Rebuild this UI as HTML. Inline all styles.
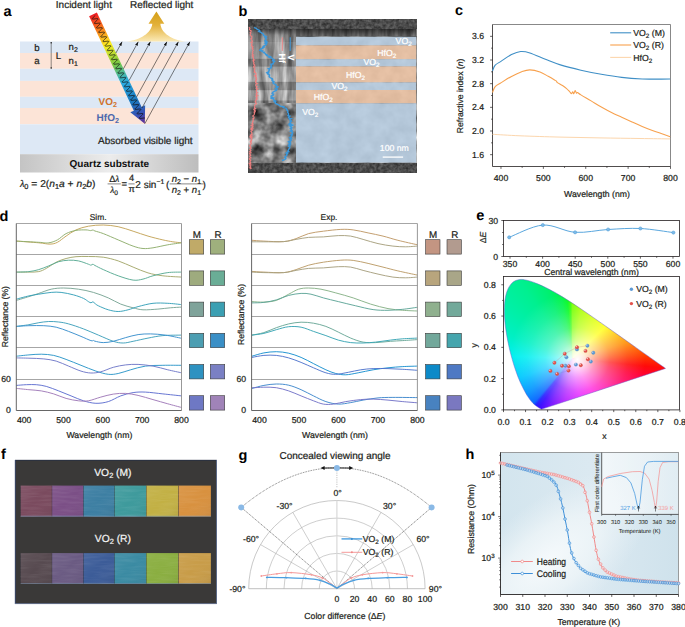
<!DOCTYPE html>
<html><head><meta charset="utf-8"><style>
html,body{margin:0;padding:0;background:#fff;overflow:hidden;}
#wrap{position:relative;width:685px;height:627px;overflow:hidden;background:#fff;font-family:"Liberation Sans", sans-serif;}
svg{position:absolute;left:0;top:0;}
svg text{font-family:"Liberation Sans", sans-serif;text-rendering:geometricPrecision;}
</style></head><body><div id="wrap">
<div style="position:absolute;left:0;top:0;width:685px;height:627px;background:radial-gradient(circle at 577.45px 359.44px, rgba(255,255,255,1) 0px, rgba(255,255,255,0.88) 7px, rgba(255,255,255,0.6) 18px, rgba(255,255,255,0.32) 32px, rgba(255,255,255,0.12) 50px, rgba(255,255,255,0) 68px),conic-gradient(from 0deg at 572.45px 358.44px, #74ff00 0deg, #a8ff00 10deg, #d8ff00 28deg, #ffff00 46deg, #ffc400 60deg, #ff8a00 74deg, #ff3c00 88deg, #ff0a0a 96deg, #ff0038 104deg, #ff0070 118deg, #ff00a8 132deg, #ff00e0 150deg, #e000ff 170deg, #a800ff 190deg, #6800ff 205deg, #3000ff 214deg, #1818ff 218deg, #0060ff 221deg, #0090ff 232deg, #00c8ff 250deg, #00f0f0 272deg, #00f0c4 290deg, #00f0a8 308deg, #00f090 326deg, #00f070 340deg, #00f448 350deg, #00fa20 355deg, #30ff00 358deg, #74ff00 360deg);clip-path:path('M541.89,409.12C541.86,409.12 541.77,409.14 541.71,409.15C541.66,409.15 541.63,409.16 541.56,409.15C541.49,409.14 541.43,409.16 541.29,409.1C541.16,409.05 541,408.97 540.74,408.82C540.49,408.67 540.2,408.48 539.75,408.2C539.3,407.91 538.78,407.62 538.03,407.13C537.28,406.64 536.03,405.83 535.25,405.25C534.48,404.68 534.11,404.39 533.38,403.66C532.65,402.93 531.82,402.08 530.86,400.86C529.91,399.64 528.87,398.28 527.67,396.32C526.46,394.37 525.13,392.11 523.63,389.15C522.13,386.18 520.34,382.74 518.65,378.51C516.96,374.28 515.17,369.29 513.51,363.76C511.85,358.24 510.05,351.7 508.68,345.35C507.31,339.01 506.03,332 505.31,325.69C504.59,319.38 504.15,313.01 504.36,307.49C504.57,301.97 505.28,296.67 506.56,292.57C507.85,288.47 509.86,285.08 512.08,282.9C514.3,280.72 517.12,279.86 519.88,279.49C522.65,279.12 525.73,279.96 528.68,280.68C531.64,281.41 534.72,282.69 537.61,283.86C540.5,285.02 543.28,286.31 546.03,287.66C548.79,289 551.45,290.43 554.13,291.93C556.81,293.42 559.46,295 562.11,296.62C564.75,298.24 567.38,299.92 570,301.62C572.63,303.33 575.25,305.08 577.87,306.85C580.5,308.62 583.14,310.42 585.77,312.23C588.39,314.03 591.01,315.87 593.62,317.69C596.23,319.51 598.85,321.34 601.42,323.14C604,324.95 606.56,326.77 609.08,328.54C611.59,330.32 614.08,332.08 616.51,333.8C618.93,335.51 621.32,337.21 623.63,338.83C625.93,340.46 628.2,342.05 630.33,343.56C632.47,345.06 634.54,346.54 636.44,347.89C638.34,349.24 640.09,350.47 641.75,351.64C643.42,352.82 645,353.94 646.43,354.94C647.85,355.94 648.72,356.54 650.31,357.66C651.9,358.79 654.43,360.59 655.98,361.68C657.52,362.78 658.58,363.52 659.59,364.23C660.6,364.95 661.37,365.5 662.04,365.97C662.7,366.44 663.18,366.76 663.58,367.05C663.99,367.33 664.19,367.48 664.47,367.67C664.74,367.86 665.04,368.08 665.21,368.2C665.39,368.33 665.45,368.37 665.5,368.41 Z');"></div>
<svg width="685" height="627" viewBox="0 0 685 627">
<rect x="20" y="41.5" width="178.5" height="11.5" fill="#dde8f5"/>
<rect x="20" y="53" width="178.5" height="15.8" fill="#fce4d7"/>
<rect x="20" y="68.8" width="178.5" height="12.1" fill="#dde8f5"/>
<rect x="20" y="80.9" width="178.5" height="15.9" fill="#fce4d7"/>
<rect x="20" y="96.8" width="178.5" height="11.2" fill="#dde8f5"/>
<rect x="20" y="108" width="178.5" height="16.3" fill="#fce4d7"/>
<rect x="20" y="124.3" width="178.5" height="29.9" fill="#dde8f5"/>
<defs><linearGradient id="sub" x1="0" x2="1" y1="0" y2="0"><stop offset="0" stop-color="#c4c4c4"/><stop offset="0.5" stop-color="#ececec"/><stop offset="1" stop-color="#bdbdbd"/></linearGradient></defs>
<rect x="20" y="154.2" width="178.5" height="18.3" fill="url(#sub)"/>
<text x="109.3" y="167" font-size="10" text-anchor="middle" font-weight="bold" fill="#111" >Quartz substrate</text>
<text x="145.3" y="143.8" font-size="10" text-anchor="middle" font-weight="normal" fill="#231f20" stroke="#231f20" stroke-width="0.22" >Absorbed visible light</text>
<line x1="51.2" y1="42.8" x2="51.2" y2="68" stroke="#444" stroke-width="0.6"/>
<circle cx="51.2" cy="42.8" r="0.8" fill="#222"/><circle cx="51.2" cy="68" r="0.8" fill="#222"/>
<text x="34.3" y="50.5" font-size="9.6" text-anchor="start" font-weight="normal" fill="#231f20" stroke="#231f20" stroke-width="0.22" >b</text>
<text x="34.3" y="63.7" font-size="9.6" text-anchor="start" font-weight="normal" fill="#231f20" stroke="#231f20" stroke-width="0.22" >a</text>
<text x="55.8" y="58.9" font-size="9.6" text-anchor="start" font-weight="normal" fill="#231f20" stroke="#231f20" stroke-width="0.22" >L</text>
<text x="68.6" y="50.4" font-size="9.6" text-anchor="start" font-weight="normal" fill="#231f20" stroke="#231f20" stroke-width="0.22" >n<tspan font-size="6.91" baseline-shift="-1.73">2</tspan></text>
<text x="68.6" y="63.7" font-size="9.6" text-anchor="start" font-weight="normal" fill="#231f20" stroke="#231f20" stroke-width="0.22" >n<tspan font-size="6.91" baseline-shift="-1.73">1</tspan></text>
<defs><linearGradient id="gold" x1="0" x2="0" y1="0" y2="1"><stop offset="0" stop-color="#d49f17"/><stop offset="0.45" stop-color="#e3b13a"/><stop offset="1" stop-color="#fbeab8"/></linearGradient></defs>
<path d="M156.4,11.6 L164.3,23.7 L160.4,23.7 C161,33 172,40 186,41.6 L126.5,41.6 C140,40 151.5,33 152.3,23.7 L148.5,23.7 Z" fill="url(#gold)"/>
<defs><linearGradient id="rainbow" gradientUnits="userSpaceOnUse" x1="93" y1="14.3" x2="144.8" y2="123.7"><stop offset="0" stop-color="#ee1c25"/><stop offset="0.12" stop-color="#f7701c"/><stop offset="0.28" stop-color="#fcee21"/><stop offset="0.45" stop-color="#7ac943"/><stop offset="0.62" stop-color="#29abe2"/><stop offset="0.8" stop-color="#1b75bc"/><stop offset="0.92" stop-color="#3a4fb5"/><stop offset="1" stop-color="#662d91"/></linearGradient></defs>
<path d="M96.89,12.46 L141.63,106.95 L145.15,105.28 L144.8,123.7 L130.33,112.3 L133.85,110.63 L89.11,16.14 Z" fill="url(#rainbow)"/>
<path d="M95.24,15.45 L94.6,16.07 L93.89,16.72 L93.21,17.36 L92.65,17.94 L92.31,18.42 L92.24,18.77 L92.47,18.97 L92.99,19.04 L93.73,19 L94.64,18.89 L95.6,18.75 L96.51,18.64 L97.26,18.59 L97.79,18.66 L98.03,18.86 L97.98,19.2 L97.65,19.67 L97.1,20.25 L96.42,20.89 L95.71,21.54 L95.07,22.16 L94.6,22.69 L94.38,23.11 L94.45,23.4 L94.82,23.54 L95.45,23.56 L96.28,23.48 L97.22,23.35 L98.17,23.21 L99.02,23.13 L99.68,23.13 L100.08,23.25 L100.19,23.52 L100,23.92 L99.56,24.45 L98.94,25.06 L98.23,25.71 L97.53,26.35 L96.96,26.94 L96.6,27.42 L96.52,27.78 L96.72,28 L97.22,28.08 L97.95,28.05 L98.85,27.94 L99.81,27.8 L100.72,27.68 L101.49,27.63 L102.04,27.69 L102.31,27.88 L102.27,28.21 L101.96,28.67 L101.43,29.24 L100.75,29.88 L100.04,30.53 L99.39,31.15 L98.91,31.7 L98.67,32.13 L98.71,32.42 L99.06,32.57 L99.67,32.6 L100.49,32.52 L101.43,32.39 L102.38,32.26 L103.24,32.17 L103.92,32.16 L104.34,32.28 L104.47,32.53 L104.3,32.93 L103.88,33.44 L103.27,34.05 L102.56,34.7 L101.86,35.34 L101.28,35.94 L100.9,36.43 L100.79,36.8 L100.98,37.03 L101.45,37.12 L102.17,37.09 L103.06,36.99 L104.02,36.85 L104.94,36.73 L105.72,36.67 L106.29,36.72 L106.58,36.9 L106.57,37.22 L106.27,37.67 L105.75,38.24 L105.08,38.87 L104.37,39.52 L103.71,40.15 L103.21,40.7 L102.95,41.14 L102.98,41.44 L103.3,41.6 L103.9,41.64 L104.71,41.57 L105.64,41.44 L106.59,41.31 L107.46,41.21 L108.16,41.2 L108.6,41.3 L108.75,41.55 L108.6,41.93 L108.2,42.44 L107.59,43.04 L106.89,43.69 L106.19,44.34 L105.6,44.93 L105.2,45.44 L105.07,45.81 L105.23,46.05 L105.69,46.15 L106.39,46.13 L107.27,46.03 L108.22,45.9 L109.15,45.77 L109.95,45.71 L110.54,45.75 L110.84,45.92 L110.86,46.23 L110.58,46.67 L110.08,47.23 L109.42,47.86 L108.7,48.51 L108.04,49.14 L107.52,49.7 L107.24,50.15 L107.25,50.46 L107.55,50.63 L108.12,50.68 L108.92,50.62 L109.85,50.49 L110.8,50.35 L111.68,50.25 L112.39,50.23 L112.85,50.33 L113.03,50.56 L112.9,50.94 L112.51,51.44 L111.92,52.03 L111.22,52.68 L110.52,53.33 L109.91,53.93 L109.5,54.44 L109.35,54.83 L109.49,55.08 L109.92,55.19 L110.61,55.18 L111.48,55.08 L112.43,54.95 L113.37,54.82 L114.18,54.75 L114.78,54.78 L115.11,54.94 L115.14,55.24 L114.89,55.67 L114.4,56.22 L113.75,56.85 L113.03,57.5 L112.36,58.13 L111.83,58.7 L111.53,59.16 L111.52,59.48 L111.8,59.66 L112.35,59.71 L113.13,59.66 L114.05,59.54 L115.01,59.4 L115.9,59.3 L116.63,59.27 L117.11,59.36 L117.3,59.58 L117.2,59.94 L116.83,60.43 L116.25,61.02 L115.56,61.67 L114.85,62.32 L114.23,62.93 L113.8,63.44 L113.63,63.84 L113.75,64.1 L114.16,64.22 L114.83,64.22 L115.69,64.13 L116.64,63.99 L117.58,63.86 L118.4,63.79 L119.02,63.81 L119.38,63.96 L119.43,64.25 L119.2,64.68 L118.72,65.22 L118.08,65.84 L117.36,66.49 L116.69,67.13 L116.15,67.7 L115.83,68.16 L115.79,68.5 L116.04,68.69 L116.58,68.75 L117.35,68.71 L118.26,68.59 L119.22,68.45 L120.12,68.34 L120.86,68.3 L121.36,68.38 L121.58,68.6 L121.5,68.95 L121.14,69.43 L120.58,70.02 L119.89,70.66 L119.18,71.31 L118.55,71.92 L118.11,72.45 L117.91,72.86 L118.01,73.13 L118.4,73.26 L119.05,73.26 L119.9,73.18 L120.85,73.04 L121.79,72.91 L122.63,72.83 L123.27,72.84 L123.64,72.98 L123.72,73.26 L123.5,73.68 L123.04,74.21 L122.41,74.83 L121.7,75.48 L121.01,76.12 L120.46,76.7 L120.12,77.17 L120.06,77.52 L120.29,77.72 L120.81,77.79 L121.57,77.75 L122.47,77.64 L123.43,77.5 L124.34,77.38 L125.09,77.34 L125.61,77.41 L125.85,77.61 L125.79,77.96 L125.46,78.43 L124.91,79.01 L124.22,79.65 L123.51,80.3 L122.87,80.92 L122.41,81.45 L122.2,81.87 L122.27,82.15 L122.64,82.29 L123.28,82.3 L124.11,82.22 L125.06,82.09 L126,81.96 L126.85,81.87 L127.51,81.88 L127.9,82.01 L128,82.27 L127.81,82.68 L127.36,83.21 L126.74,83.82 L126.03,84.47 L125.34,85.11 L124.77,85.7 L124.42,86.18 L124.33,86.53 L124.55,86.75 L125.05,86.83 L125.78,86.79 L126.68,86.68 L127.64,86.55 L128.55,86.43 L129.32,86.38 L129.86,86.44 L130.12,86.63 L130.09,86.96 L129.77,87.43 L129.23,88 L128.55,88.64 L127.84,89.29 L127.2,89.91 L126.72,90.45 L126.48,90.88 L126.53,91.17 L126.88,91.32 L127.5,91.34 L128.32,91.27 L129.26,91.14 L130.21,91 L131.07,90.91 L131.75,90.91 L132.16,91.03 L132.28,91.29 L132.11,91.68 L131.68,92.2 L131.07,92.81 L130.36,93.46 L129.67,94.1 L129.09,94.69 L128.71,95.19 L128.61,95.55 L128.8,95.78 L129.28,95.86 L130,95.84 L130.89,95.73 L131.85,95.59 L132.77,95.47 L133.55,95.42 L134.11,95.47 L134.4,95.65 L134.38,95.97 L134.08,96.43 L133.56,96.99 L132.89,97.63 L132.17,98.28 L131.52,98.9 L131.02,99.45 L130.77,99.89 L130.8,100.19 L131.13,100.35 L131.73,100.38 L132.54,100.32 L133.47,100.19 L134.43,100.05 L135.29,99.96 L135.98,99.95 L136.42,100.05 L136.56,100.3 L136.41,100.69 L136,101.2 L135.4,101.8 L134.7,102.45 L134,103.09 L133.4,103.69 L133.01,104.19 L132.89,104.57 L133.05,104.8 L133.51,104.9 L134.22,104.88 L135.1,104.78 L136.06,104.64 L136.98,104.52 L137.78,104.46 L138.36,104.5 L138.66,104.67 L138.67,104.98 L138.39,105.43 L137.88,105.99 L137.22,106.62 L136.5,107.27 L135.84,107.9 L135.33,108.45 L135.06,108.9 L135.07,109.21 L135.37,109.38 L135.95,109.42 L136.75,109.36 L137.68,109.24 L138.64,109.1 L139.51,109 L140.22,108.98 L140.68,109.08 L140.84,109.32 L140.71,109.69 L140.32,110.19 L139.73,110.79 L139.03,111.44 L138.32,112.09 L137.72,112.69 L137.31,113.2 L137.16,113.58 L137.31,113.83 L137.75,113.94 L138.44,113.92 L139.31,113.83 L140.26,113.69 L141.2,113.56 L142.01,113.5 L142.6,113.53 L142.93,113.69 L142.96,113.99 L142.7,114.43 L142.21,114.98 L141.55,115.61 L140.84,116.26 L140.17,116.89 L139.64,117.45 L139.35,117.91 L139.33,118.23 L139.62,118.41 L140.18,118.46 L140.97,118.41 L141.89,118.29 L142.85,118.15 L143.73,118.04 L144.45,118.02 L144.93,118.11" fill="none" stroke="#111" stroke-width="0.75"/>
<defs><marker id="ah" markerWidth="6" markerHeight="6" refX="4" refY="3" orient="auto" markerUnits="userSpaceOnUse"><path d="M0,1.6 L4,3 L0,4.4 Z" fill="#111"/></marker></defs>
<line x1="115.92" y1="53" x2="122.08" y2="41.8" stroke="#111" stroke-width="0.55" marker-end="url(#ah)"/>
<line x1="123.41" y1="68.8" x2="138.26" y2="41.8" stroke="#111" stroke-width="0.55" marker-end="url(#ah)"/>
<line x1="128.99" y1="80.6" x2="150.33" y2="41.8" stroke="#111" stroke-width="0.55" marker-end="url(#ah)"/>
<line x1="136.66" y1="96.8" x2="166.91" y2="41.8" stroke="#111" stroke-width="0.55" marker-end="url(#ah)"/>
<line x1="141.97" y1="108" x2="178.38" y2="41.8" stroke="#111" stroke-width="0.55" marker-end="url(#ah)"/>
<line x1="144.8" y1="123.7" x2="189.85" y2="41.8" stroke="#111" stroke-width="0.55" marker-end="url(#ah)"/>
<text x="98.6" y="105.3" font-size="10" text-anchor="start" font-weight="bold" fill="#d2732c" >VO<tspan font-size="7.2" baseline-shift="-1.8">2</tspan></text>
<text x="96.6" y="121.3" font-size="10" text-anchor="start" font-weight="bold" fill="#4d69ad" >HfO<tspan font-size="7.2" baseline-shift="-1.8">2</tspan></text>
<text x="55.8" y="8.1" font-size="10" text-anchor="start" font-weight="normal" fill="#231f20" stroke="#231f20" stroke-width="0.22" >Incident light</text>
<text x="130" y="8.1" font-size="10" text-anchor="start" font-weight="normal" fill="#231f20" stroke="#231f20" stroke-width="0.22" >Reflected light</text>
<text x="19.9" y="186.8" font-size="10" text-anchor="start" font-weight="normal" fill="#231f20" stroke="#231f20" stroke-width="0.22" textLength="75.5" lengthAdjust="spacingAndGlyphs"><tspan font-family="Liberation Serif" font-style="italic">λ</tspan><tspan font-size="7.2" baseline-shift="-1.8">0</tspan> = 2(<tspan font-style="italic">n</tspan><tspan font-size="7.2" baseline-shift="-1.8">1</tspan><tspan font-style="italic">a</tspan> + <tspan font-style="italic">n</tspan><tspan font-size="7.2" baseline-shift="-1.8">2</tspan><tspan font-style="italic">b</tspan>)</text>
<text x="114.2" y="181.6" font-size="9.2" text-anchor="middle" font-weight="normal" fill="#231f20" stroke="#231f20" stroke-width="0.22" >Δ<tspan font-family="Liberation Serif" font-style="italic">λ</tspan></text>
<line x1="107.6" y1="183.9" x2="120.8" y2="183.9" stroke="#222" stroke-width="0.55"/>
<text x="114.2" y="192.6" font-size="9.2" text-anchor="middle" font-weight="normal" fill="#231f20" stroke="#231f20" stroke-width="0.22" ><tspan font-family="Liberation Serif" font-style="italic">λ</tspan><tspan font-size="6.62" baseline-shift="-1.66">0</tspan></text>
<text x="121.6" y="187.4" font-size="9.5" text-anchor="start" font-weight="normal" fill="#231f20" stroke="#231f20" stroke-width="0.22" >=</text>
<text x="131.6" y="181.4" font-size="9.2" text-anchor="middle" font-weight="normal" fill="#231f20" stroke="#231f20" stroke-width="0.22" >4</text>
<line x1="128.4" y1="183.9" x2="134.6" y2="183.9" stroke="#222" stroke-width="0.55"/>
<text x="131.6" y="192.2" font-size="9.2" text-anchor="middle" font-weight="normal" fill="#231f20" stroke="#231f20" stroke-width="0.22" >π</text>
<text x="135.3" y="187.6" font-size="10" text-anchor="start" font-weight="normal" fill="#231f20" stroke="#231f20" stroke-width="0.22" >2 sin<tspan font-size="6.8" baseline-shift="3.9">−1</tspan></text>
<text x="166" y="187.6" font-size="10" text-anchor="start" font-weight="normal" fill="#231f20" stroke="#231f20" stroke-width="0.22" >(</text>
<text x="186.4" y="181.6" font-size="9.6" text-anchor="middle" font-weight="normal" fill="#231f20" stroke="#231f20" stroke-width="0.22" ><tspan font-style="italic">n</tspan><tspan font-size="6.91" baseline-shift="-1.73">2</tspan> − <tspan font-style="italic">n</tspan><tspan font-size="6.91" baseline-shift="-1.73">1</tspan></text>
<line x1="169.6" y1="183.9" x2="203.6" y2="183.9" stroke="#222" stroke-width="0.55"/>
<text x="186.4" y="192.8" font-size="9.6" text-anchor="middle" font-weight="normal" fill="#231f20" stroke="#231f20" stroke-width="0.22" ><tspan font-style="italic">n</tspan><tspan font-size="6.91" baseline-shift="-1.73">2</tspan> + <tspan font-style="italic">n</tspan><tspan font-size="6.91" baseline-shift="-1.73">1</tspan></text>
<text x="202.6" y="187.6" font-size="10" text-anchor="start" font-weight="normal" fill="#231f20" stroke="#231f20" stroke-width="0.22" >)</text>
<text x="3.4" y="15.7" font-size="14.5" text-anchor="start" font-weight="bold" fill="#000" >a</text>
<defs><filter id="semcol" x="0" y="0" width="100%" height="100%" color-interpolation-filters="sRGB"><feTurbulence type="fractalNoise" baseFrequency="0.16 0.03" numOctaves="3" seed="5"/><feColorMatrix type="matrix" values="0.75 0 0 0 0.2  0.75 0 0 0 0.2  0.75 0 0 0 0.2  0 0 0 0 1"/></filter><filter id="semblob" x="0" y="0" width="100%" height="100%" color-interpolation-filters="sRGB"><feTurbulence type="fractalNoise" baseFrequency="0.075" numOctaves="3" seed="11"/><feColorMatrix type="matrix" values="1.15 0 0 0 -0.08  1.15 0 0 0 -0.08  1.15 0 0 0 -0.08  0 0 0 0 1"/></filter><filter id="semfine" x="0" y="0" width="100%" height="100%" color-interpolation-filters="sRGB"><feTurbulence type="fractalNoise" baseFrequency="0.3" numOctaves="2" seed="2"/><feColorMatrix type="matrix" values="0.35 0 0 0 0.12  0.35 0 0 0 0.12  0.35 0 0 0 0.12  0 0 0 0 1"/></filter><linearGradient id="semtop" x1="0" x2="0" y1="0" y2="1"><stop offset="0" stop-color="#000" stop-opacity="0.55"/><stop offset="0.5" stop-color="#000" stop-opacity="0.15"/><stop offset="1" stop-color="#000" stop-opacity="0"/></linearGradient></defs>
<rect x="248.3" y="19.9" width="167.9" height="152.5" fill="#000" filter="url(#semfine)"/>
<rect x="248.3" y="29" width="167.9" height="74.3" fill="#000" filter="url(#semcol)"/>
<rect x="248.3" y="29" width="167.9" height="12" fill="url(#semtop)"/>
<rect x="248.3" y="58.8" width="47.7" height="7.8" fill="#000" opacity="0.17"/>
<rect x="248.3" y="81.8" width="47.7" height="8.4" fill="#000" opacity="0.2"/>
<rect x="248.3" y="100.5" width="47.7" height="4" fill="#000" opacity="0.15"/>
<rect x="248.3" y="42" width="47.7" height="16.8" fill="#fff" opacity="0.12"/>
<rect x="248.3" y="66.6" width="47.7" height="15.2" fill="#fff" opacity="0.12"/>
<rect x="248.3" y="90.2" width="47.7" height="10.3" fill="#fff" opacity="0.1"/>
<rect x="248.3" y="103.3" width="167.9" height="59.3" fill="#000" filter="url(#semblob)"/>
<rect x="296" y="36.8" width="120.2" height="125.8" fill="#9a9a9a"/>
<rect x="296" y="36.8" width="120.2" height="125.8" fill="#000" filter="url(#semblob)" opacity="0.6"/>
<rect x="296" y="29" width="120.2" height="7.8" fill="#000" opacity="0.3"/>
<rect x="296" y="36.8" width="120.2" height="8.6" fill="#bbd0e5" opacity="0.88"/>
<rect x="296" y="45.4" width="120.2" height="13.8" fill="#efc5a5" opacity="0.88"/>
<rect x="296" y="59.2" width="120.2" height="7.2" fill="#bbd0e5" opacity="0.88"/>
<rect x="296" y="66.4" width="120.2" height="16" fill="#efc5a5" opacity="0.88"/>
<rect x="296" y="82.4" width="120.2" height="7.6" fill="#bbd0e5" opacity="0.88"/>
<rect x="296" y="90" width="120.2" height="13.3" fill="#efc5a5" opacity="0.88"/>
<rect x="296" y="103.3" width="120.2" height="59.3" fill="#bbd0e5" opacity="0.88"/>
<text x="395.6" y="44" font-size="8.7" text-anchor="start" font-weight="normal" fill="#fff" stroke="#fff" stroke-width="0.22" >VO<tspan font-size="6.26" baseline-shift="-1.57">2</tspan></text>
<text x="377.2" y="55.6" font-size="8.7" text-anchor="start" font-weight="normal" fill="#fff" stroke="#fff" stroke-width="0.22" >HfO<tspan font-size="6.26" baseline-shift="-1.57">2</tspan></text>
<text x="363.5" y="65.2" font-size="8.7" text-anchor="start" font-weight="normal" fill="#fff" stroke="#fff" stroke-width="0.22" >VO<tspan font-size="6.26" baseline-shift="-1.57">2</tspan></text>
<text x="346" y="77.5" font-size="8.7" text-anchor="start" font-weight="normal" fill="#fff" stroke="#fff" stroke-width="0.22" >HfO<tspan font-size="6.26" baseline-shift="-1.57">2</tspan></text>
<text x="331.4" y="88.5" font-size="8.7" text-anchor="start" font-weight="normal" fill="#fff" stroke="#fff" stroke-width="0.22" >VO<tspan font-size="6.26" baseline-shift="-1.57">2</tspan></text>
<text x="313.8" y="99.9" font-size="8.7" text-anchor="start" font-weight="normal" fill="#fff" stroke="#fff" stroke-width="0.22" >HfO<tspan font-size="6.26" baseline-shift="-1.57">2</tspan></text>
<text x="302.2" y="115.4" font-size="8.7" text-anchor="start" font-weight="normal" fill="#fff" stroke="#fff" stroke-width="0.22" >VO<tspan font-size="6.26" baseline-shift="-1.57">2</tspan></text>
<text x="394.3" y="150.5" font-size="8.7" text-anchor="middle" font-weight="normal" fill="#fff" stroke="#fff" stroke-width="0.22" >100 nm</text>
<line x1="382.7" y1="157.1" x2="403.1" y2="157.1" stroke="#fff" stroke-width="1.3"/>
<path d="M249.52,27.2 L249.36,27.81 L249.96,28.42 L249.59,29.03 L249.51,29.64 L250.18,30.25 L251.18,30.86 L251.04,31.47 L251.05,32.08 L250.14,32.69 L250.78,33.3 L250.38,33.9 L250.27,34.51 L250.22,35.12 L250.49,35.73 L251.84,36.34 L251.73,36.95 L251.77,37.56 L251.83,38.17 L250.81,38.78 L251.09,39.39 L251.73,40 L251.98,40.6 L252.26,41.2 L252.36,41.8 L251,42.4 L251.99,43 L252.17,43.6 L251.93,44.2 L251.4,44.8 L251.99,45.4 L251.36,46 L252.94,46.6 L252.88,47.2 L252.37,47.8 L251.98,48.4 L253.14,49 L252.59,49.6 L253.21,50.2 L253.21,50.8 L252.66,51.4 L252.55,52 L252.94,52.6 L252.7,53.2 L252.27,53.8 L252.59,54.4 L253.56,55 L252.25,55.61 L252.33,56.22 L253.44,56.83 L252.89,57.44 L253.42,58.06 L253.38,58.67 L253.22,59.28 L254.47,59.89 L253.1,60.5 L253.57,61.11 L253.26,61.72 L254.11,62.33 L253.54,62.94 L253.75,63.56 L254.53,64.17 L253.83,64.78 L254.33,65.39 L255.03,66 L253.66,66.61 L253.66,67.22 L254.03,67.83 L255.07,68.43 L254.88,69.04 L254.27,69.65 L254.51,70.26 L254.31,70.87 L254.89,71.48 L254.22,72.09 L255.47,72.7 L255.9,73.3 L256.08,73.91 L255.76,74.52 L256.24,75.13 L254.62,75.74 L255.18,76.35 L256.47,76.96 L256.2,77.57 L255.62,78.17 L256.65,78.78 L256.14,79.39 L256.57,80 L255.69,80.6 L255.56,81.2 L256.08,81.8 L255.59,82.4 L256.09,83 L257.19,83.6 L256.12,84.2 L255.6,84.8 L255.72,85.4 L256.01,86 L257.17,86.6 L256.47,87.2 L256.4,87.8 L256.11,88.4 L257.77,89 L256.82,89.6 L256.49,90.2 L256.29,90.8 L256.34,91.4 L256.6,92 L257.44,92.62 L256.42,93.25 L256.15,93.88 L256.88,94.5 L256.37,95.12 L257.65,95.75 L256,96.38 L256.65,97 L257.02,97.62 L256.29,98.25 L257.25,98.88 L256.26,99.5 L255.76,100.12 L255.99,100.75 L255.24,101.38 L255.86,102 L255.43,102.63 L256.47,103.27 L256.26,103.9 L255.54,104.53 L254.59,105.17 L254.88,105.8 L254.74,106.43 L254.57,107.07 L254.5,107.7 L255.53,108.33 L254.11,108.97 L253.83,109.6 L255.3,110.23 L254.53,110.87 L255.18,111.5 L254.02,112.12 L254.81,112.74 L254.26,113.35 L254.4,113.97 L254.21,114.59 L253.65,115.21 L252.83,115.82 L252.93,116.44 L254.02,117.06 L253.96,117.68 L253.9,118.29 L252.74,118.91 L253.21,119.53 L253.36,120.15 L252.97,120.76 L253.17,121.38 L252.55,122 L252.72,122.61 L252.72,123.22 L251.92,123.83 L253.04,124.44 L253.04,125.06 L251.4,125.67 L252.96,126.28 L252.89,126.89 L252.3,127.5 L251.12,128.11 L252.61,128.72 L251.16,129.33 L252.62,129.94 L252.02,130.56 L250.88,131.17 L251.01,131.78 L251.8,132.39 L251.62,133 L251.9,133.6 L252.18,134.2 L250.86,134.8 L250.43,135.4 L252.04,136 L250.35,136.6 L251.86,137.2 L250.45,137.8 L251.65,138.4 L251.56,139 L251.69,139.6 L251.05,140.2 L251.6,140.8 L250.33,141.4 L251.13,142 L250.48,142.6 L251.44,143.2 L251.18,143.8 L250.59,144.4 L250.65,145 L249.72,145.62 L249.72,146.23 L250.7,146.85 L250.49,147.46 L251.14,148.08 L250.66,148.69 L249.79,149.31 L250.17,149.92 L250.87,150.54 L250.41,151.15 L249.47,151.77 L250.93,152.38 L250.89,153 L249.53,153.62 L250.33,154.23 L250.02,154.85 L250.72,155.46 L249.84,156.08 L249.68,156.69 L250.11,157.31 L250.95,157.92 L249.36,158.54 L249.38,159.15 L250.26,159.77 L250.72,160.38 L250.02,161 L249.9,161.62 L250.69,162.23 L250.57,162.85 L249.31,163.46 L250.8,164.08 L249.59,164.69 L249.81,165.31 L250.79,165.92 L250.07,166.54 L250.77,167.15 L249.66,167.77 L250.95,168.38 L250.3,169" fill="none" stroke="#ef7f7f" stroke-width="1.1"/>
<path d="M254.22,27.2 L254.88,27.81 L256.43,28.43 L256.78,29.04 L257.99,29.66 L259.58,30.27 L259.83,30.89 L258.86,31.5 L260.32,32.11 L261.6,32.73 L262.18,33.34 L263.45,33.96 L263.62,34.57 L263.36,35.19 L264.49,35.8 L265.98,36.41 L264.86,37.03 L265.89,37.64 L266.47,38.26 L265.65,38.87 L265.82,39.49 L265.71,40.1 L265.05,40.71 L266.54,41.33 L265.52,41.94 L266.64,42.56 L265.23,43.17 L266.63,43.79 L266.49,44.4 L265.52,45.04 L264.55,45.69 L263.27,46.33 L264.23,46.98 L262.69,47.62 L262.86,48.27 L261.03,48.91 L260.35,49.56 L259.95,50.2 L262.39,50.85 L261.72,51.49 L264.3,52.14 L263.87,52.78 L265.21,53.43 L265.51,54.07 L267.01,54.72 L266.59,55.36 L268.18,56.01 L270.3,56.65 L269.33,57.3 L271.9,58.03 L272.55,58.77 L273.92,59.5 L272.92,60.11 L272.59,60.72 L274.49,61.32 L273.87,61.93 L273.47,62.54 L273.15,63.15 L273.17,63.75 L270.93,64.36 L271.63,64.97 L271.08,65.58 L270.94,66.18 L271.48,66.79 L270.72,67.4 L270.91,68.03 L268.56,68.67 L269.53,69.3 L269.28,69.93 L269.13,70.57 L268.52,71.2 L268.72,71.83 L267.14,72.47 L268.33,73.1 L267.52,73.73 L268.43,74.36 L269.58,74.99 L269.56,75.62 L269.06,76.26 L269.32,76.89 L269.99,77.52 L271.15,78.15 L272.49,78.78 L272.7,79.41 L271.94,80.04 L272.39,80.67 L273.83,81.31 L272.99,81.94 L273.74,82.57 L273.23,83.2 L274.06,83.81 L275.33,84.43 L276.11,85.04 L276.33,85.66 L276.15,86.27 L277.97,86.89 L277.6,87.5 L276,88.11 L275.31,88.72 L277,89.33 L276.56,89.94 L275.92,90.56 L274.68,91.17 L273.5,91.78 L272.5,92.39 L272.42,93 L272.13,93.6 L273.63,94.2 L273.34,94.8 L272.87,95.4 L271.16,96 L271.17,96.6 L271.12,97.2 L273.15,97.83 L271.75,98.47 L273.73,99.1 L273.94,99.73 L274.1,100.37 L275.57,101 L274.37,101.63 L275.48,102.27 L275.08,102.9 L276.04,103.54 L277,104.19 L278.79,104.83 L279.44,105.48 L280.4,106.12 L283.75,106.77 L283.17,107.41 L285.73,108.06 L286.38,108.7 L286.72,109.33 L286.81,109.95 L287.79,110.58 L287.88,111.2 L287.77,111.83 L287.66,112.45 L288.25,113.08 L288.59,113.7 L288.44,114.33 L288.59,114.95 L288.03,115.58 L289.95,116.2 L289.36,116.83 L288.63,117.45 L289.13,118.08 L291.1,118.7 L289.68,119.32 L290.06,119.94 L290.82,120.57 L291.31,121.19 L290.09,121.81 L290.29,122.43 L290.44,123.05 L289.55,123.67 L291.65,124.3 L289.65,124.92 L291.97,125.54 L290.1,126.16 L290.17,126.78 L291.89,127.4 L291.89,128.03 L290.53,128.65 L291.36,129.27 L291.24,129.89 L291.88,130.51 L290.66,131.13 L292.26,131.76 L292.73,132.38 L292.1,133 L292.49,133.6 L292.42,134.2 L290.96,134.8 L291.97,135.4 L291.82,136 L291.11,136.6 L289.84,137.2 L290.95,137.8 L291.54,138.4 L289.97,139 L290.67,139.6 L291.15,140.2 L290.32,140.8 L288.86,141.4 L290.17,142 L289.15,142.6 L290.48,143.2 L289.89,143.8 L288.92,144.4 L290.22,145 L289.45,145.6 L288.65,146.2 L289.72,146.8 L289.74,147.4 L289.56,148.03 L289.36,148.65 L288.64,149.28 L288.55,149.9 L288.14,150.53 L287.78,151.15 L288.7,151.78 L287,152.4 L286.16,153.03 L287.5,153.65 L286.8,154.28 L286.73,154.9 L286.68,155.53 L285.66,156.15 L285.36,156.78 L284.87,157.4 L286,158.12 L285.72,158.84 L284.63,159.56 L282.66,160.28 L283,161" fill="none" stroke="#3a98dc" stroke-width="1.45"/>
<line x1="282.3" y1="37.3" x2="282.3" y2="50.9" stroke="#ef7f7f" stroke-width="0.9"/>
<line x1="290.2" y1="37.3" x2="290.2" y2="50.9" stroke="#3a98dc" stroke-width="1"/>
<text x="0" y="0" font-size="9" text-anchor="start" font-weight="bold" fill="#fff" transform="translate(279.2,53.6) rotate(90)">Hf</text>
<text x="0" y="0" font-size="9" text-anchor="start" font-weight="bold" fill="#fff" transform="translate(287.7,54.6) rotate(90)">V</text>
<text x="238.5" y="16.1" font-size="14.5" text-anchor="start" font-weight="bold" fill="#000" >b</text>
<path d="M492.5,24.5 H670.5 V166.5" fill="none" stroke="#6a6a6a" stroke-width="0.8"/>
<path d="M492.5,24.5 V166.5 H670.5" fill="none" stroke="#231f20" stroke-width="0.8"/>
<line x1="500.98" y1="166.5" x2="500.98" y2="168.9" stroke="#231f20" stroke-width="0.7"/>
<text x="500.98" y="181.1" font-size="8.7" text-anchor="middle" font-weight="normal" fill="#231f20" stroke="#231f20" stroke-width="0.22" >400</text>
<line x1="522.17" y1="166.5" x2="522.17" y2="167.9" stroke="#231f20" stroke-width="0.7"/>
<line x1="543.36" y1="166.5" x2="543.36" y2="168.9" stroke="#231f20" stroke-width="0.7"/>
<text x="543.36" y="181.1" font-size="8.7" text-anchor="middle" font-weight="normal" fill="#231f20" stroke="#231f20" stroke-width="0.22" >500</text>
<line x1="564.55" y1="166.5" x2="564.55" y2="167.9" stroke="#231f20" stroke-width="0.7"/>
<line x1="585.74" y1="166.5" x2="585.74" y2="168.9" stroke="#231f20" stroke-width="0.7"/>
<text x="585.74" y="181.1" font-size="8.7" text-anchor="middle" font-weight="normal" fill="#231f20" stroke="#231f20" stroke-width="0.22" >600</text>
<line x1="606.93" y1="166.5" x2="606.93" y2="167.9" stroke="#231f20" stroke-width="0.7"/>
<line x1="628.12" y1="166.5" x2="628.12" y2="168.9" stroke="#231f20" stroke-width="0.7"/>
<text x="628.12" y="181.1" font-size="8.7" text-anchor="middle" font-weight="normal" fill="#231f20" stroke="#231f20" stroke-width="0.22" >700</text>
<line x1="649.31" y1="166.5" x2="649.31" y2="167.9" stroke="#231f20" stroke-width="0.7"/>
<line x1="670.5" y1="166.5" x2="670.5" y2="168.9" stroke="#231f20" stroke-width="0.7"/>
<text x="670.5" y="181.1" font-size="8.7" text-anchor="middle" font-weight="normal" fill="#231f20" stroke="#231f20" stroke-width="0.22" >800</text>
<line x1="490.1" y1="154.67" x2="492.5" y2="154.67" stroke="#231f20" stroke-width="0.7"/>
<text x="484.1" y="157.77" font-size="8.7" text-anchor="end" font-weight="normal" fill="#231f20" stroke="#231f20" stroke-width="0.22" >1.6</text>
<line x1="491.1" y1="142.83" x2="492.5" y2="142.83" stroke="#231f20" stroke-width="0.7"/>
<line x1="490.1" y1="131" x2="492.5" y2="131" stroke="#231f20" stroke-width="0.7"/>
<text x="484.1" y="134.1" font-size="8.7" text-anchor="end" font-weight="normal" fill="#231f20" stroke="#231f20" stroke-width="0.22" >2.0</text>
<line x1="491.1" y1="119.17" x2="492.5" y2="119.17" stroke="#231f20" stroke-width="0.7"/>
<line x1="490.1" y1="107.33" x2="492.5" y2="107.33" stroke="#231f20" stroke-width="0.7"/>
<text x="484.1" y="110.43" font-size="8.7" text-anchor="end" font-weight="normal" fill="#231f20" stroke="#231f20" stroke-width="0.22" >2.4</text>
<line x1="491.1" y1="95.5" x2="492.5" y2="95.5" stroke="#231f20" stroke-width="0.7"/>
<line x1="490.1" y1="83.67" x2="492.5" y2="83.67" stroke="#231f20" stroke-width="0.7"/>
<text x="484.1" y="86.77" font-size="8.7" text-anchor="end" font-weight="normal" fill="#231f20" stroke="#231f20" stroke-width="0.22" >2.8</text>
<line x1="491.1" y1="71.83" x2="492.5" y2="71.83" stroke="#231f20" stroke-width="0.7"/>
<line x1="490.1" y1="60" x2="492.5" y2="60" stroke="#231f20" stroke-width="0.7"/>
<text x="484.1" y="63.1" font-size="8.7" text-anchor="end" font-weight="normal" fill="#231f20" stroke="#231f20" stroke-width="0.22" >3.2</text>
<line x1="491.1" y1="48.17" x2="492.5" y2="48.17" stroke="#231f20" stroke-width="0.7"/>
<line x1="490.1" y1="36.33" x2="492.5" y2="36.33" stroke="#231f20" stroke-width="0.7"/>
<text x="484.1" y="39.43" font-size="8.7" text-anchor="end" font-weight="normal" fill="#231f20" stroke="#231f20" stroke-width="0.22" >3.6</text>
<text x="597" y="196.5" font-size="8.7" text-anchor="middle" font-weight="normal" fill="#231f20" stroke="#231f20" stroke-width="0.22" >Wavelength (nm)</text>
<text x="0" y="0" font-size="8.6" text-anchor="middle" font-weight="normal" fill="#231f20" stroke="#231f20" stroke-width="0.21" transform="translate(462.7,95.9) rotate(-90)">Refractive index (<tspan font-style="italic">n</tspan>)</text>
<path d="M492.5,134.3C497.08,134.55 508.75,135.33 520,135.8C531.25,136.27 546.67,136.75 560,137.1C573.33,137.45 586.67,137.67 600,137.9C613.33,138.13 628.3,138.33 640,138.5C651.7,138.67 665.17,138.83 670.2,138.9" fill="none" stroke="#fcd6ad" stroke-width="1"/>
<path d="M492.5,92.4C492.95,91.43 493.73,88.23 495.2,86.6C496.67,84.97 498.58,84.3 501.3,82.6C504.02,80.9 508.1,78.22 511.5,76.4C514.9,74.58 518.63,72.78 521.7,71.7C524.77,70.62 526.85,69.83 529.9,69.9C532.95,69.97 536.95,71.03 540,72.1C543.05,73.17 545.65,74.92 548.2,76.3C550.75,77.68 553.92,79.58 555.3,80.4C556.68,81.22 556.15,80.83 556.5,81.2C556.85,81.57 556.4,81.88 557.4,82.6C558.4,83.32 560.97,84.5 562.5,85.5C564.03,86.5 565.42,87.57 566.6,88.6C567.78,89.63 568.78,90.87 569.6,91.7C570.42,92.53 570.98,93.58 571.5,93.6C572.02,93.62 572.32,91.77 572.7,91.8C573.08,91.83 573.38,94.02 573.8,93.8C574.22,93.58 574.77,90.6 575.2,90.5C575.63,90.4 576.02,92.85 576.4,93.2C576.78,93.55 576.75,92.32 577.5,92.6C578.25,92.88 578.63,93.52 580.9,94.9C583.17,96.28 587.7,98.88 591.1,100.9C594.5,102.92 597.9,105.07 601.3,107C604.7,108.93 608.1,110.8 611.5,112.5C614.9,114.2 618.28,115.63 621.7,117.2C625.12,118.77 628.58,120.37 632,121.9C635.42,123.43 638.8,124.97 642.2,126.4C645.6,127.83 649,129.23 652.4,130.5C655.8,131.77 659.63,132.97 662.6,134C665.57,135.03 668.93,136.25 670.2,136.7" fill="none" stroke="#f7a14e" stroke-width="1.1"/>
<path d="M492.5,70.9C492.95,69.95 493.73,66.83 495.2,65.2C496.67,63.57 498.58,62.87 501.3,61.1C504.02,59.33 508.27,56.2 511.5,54.6C514.73,53 517.63,51.78 520.7,51.5C523.77,51.22 525.67,51.55 529.9,52.9C534.13,54.25 541.02,57.6 546.1,59.6C551.18,61.6 554.6,63.13 560.4,64.9C566.2,66.67 574.08,68.63 580.9,70.2C587.72,71.77 594.5,73.1 601.3,74.3C608.1,75.5 614.88,76.62 621.7,77.4C628.52,78.18 636.48,78.72 642.2,79C647.92,79.28 651.33,79.1 656,79.1C660.67,79.1 667.83,79.02 670.2,79" fill="none" stroke="#3f8fc6" stroke-width="1.1"/>
<line x1="610.2" y1="32.8" x2="631.2" y2="32.8" stroke="#3f8fc6" stroke-width="1.1"/>
<text x="633.3" y="35.9" font-size="8.7" text-anchor="start" font-weight="normal" fill="#231f20" stroke="#231f20" stroke-width="0.22" >VO<tspan font-size="6.26" baseline-shift="-1.57">2</tspan> (M)</text>
<line x1="610.2" y1="45" x2="631.2" y2="45" stroke="#f7a14e" stroke-width="1.1"/>
<text x="633.3" y="48.1" font-size="8.7" text-anchor="start" font-weight="normal" fill="#231f20" stroke="#231f20" stroke-width="0.22" >VO<tspan font-size="6.26" baseline-shift="-1.57">2</tspan> (R)</text>
<line x1="610.2" y1="57.4" x2="631.2" y2="57.4" stroke="#fcd6ad" stroke-width="1.1"/>
<text x="633.3" y="60.5" font-size="8.7" text-anchor="start" font-weight="normal" fill="#231f20" stroke="#231f20" stroke-width="0.22" >HfO<tspan font-size="6.26" baseline-shift="-1.57">2</tspan></text>
<text x="455" y="15.3" font-size="14.5" text-anchor="start" font-weight="bold" fill="#000" >c</text>
<path d="M16.5,241.1C20.22,241.38 33.22,242.3 38.8,242.8C44.38,243.3 46.9,244.18 50,244.1C53.1,244.02 54.72,243.63 57.4,242.3C60.08,240.97 63,238.17 66.1,236.1C69.2,234.03 72.28,231.55 76,229.9C79.72,228.25 83.85,227.02 88.4,226.2C92.95,225.38 98.33,224.92 103.3,225C108.27,225.08 113.23,225.67 118.2,226.7C123.17,227.73 128.13,229.63 133.1,231.2C138.07,232.77 143.03,234.65 148,236.1C152.97,237.55 158.77,238.95 162.9,239.9C167.03,240.85 169.7,241.32 172.8,241.8C175.9,242.28 180.05,242.63 181.5,242.8" fill="none" stroke="#c4a45a" stroke-width="0.95"/>
<path d="M16.5,241.1C20.22,241.3 33.43,242.02 38.8,242.3C44.17,242.58 45.6,243.2 48.7,242.8C51.8,242.4 54.5,241.43 57.4,239.9C60.3,238.37 63,235.18 66.1,233.6C69.2,232.02 72.68,231.02 76,230.4C79.32,229.78 83.58,229.87 86,229.9C88.42,229.93 89.35,230.58 90.5,230.6C91.65,230.62 92.15,229.93 92.9,230C93.65,230.07 93.27,230.4 95,231C96.73,231.6 99.43,232.12 103.3,233.6C107.17,235.08 113.23,237.82 118.2,239.9C123.17,241.98 128.97,244.67 133.1,246.1C137.23,247.53 139.68,248.22 143,248.5C146.32,248.78 148.87,248.42 153,247.8C157.13,247.18 163.05,245.63 167.8,244.8C172.55,243.97 179.22,243.13 181.5,242.8" fill="none" stroke="#8fae6e" stroke-width="0.95"/>
<path d="M16.5,272.1C18.57,272.1 25.18,272.18 28.9,272.1C32.62,272.02 35.9,272.22 38.8,271.6C41.7,270.98 43.4,269.97 46.3,268.4C49.2,266.83 52.9,263.85 56.2,262.2C59.5,260.55 62.8,259.42 66.1,258.5C69.4,257.58 72.28,257.03 76,256.7C79.72,256.37 83.85,256.42 88.4,256.5C92.95,256.58 98.33,256.47 103.3,257.2C108.27,257.93 113.23,259.25 118.2,260.9C123.17,262.55 128.13,265.1 133.1,267.1C138.07,269.1 143.03,271.45 148,272.9C152.97,274.35 157.32,275.1 162.9,275.8C168.48,276.5 178.4,276.88 181.5,277.1" fill="none" stroke="#a4a86c" stroke-width="0.95"/>
<path d="M16.5,272.1C18.57,272.02 25.18,272.02 28.9,271.6C32.62,271.18 35.5,270.55 38.8,269.6C42.1,268.65 45.38,267.22 48.7,265.9C52.02,264.58 55.38,262.65 58.7,261.7C62.02,260.75 65.3,260.33 68.6,260.2C71.9,260.07 75.2,260.23 78.5,260.9C81.8,261.57 86.32,263.48 88.4,264.2C90.48,264.92 90.25,265.2 91,265.2C91.75,265.2 92.23,264.15 92.9,264.2C93.57,264.25 93.27,264.6 95,265.5C96.73,266.4 99.43,267.88 103.3,269.6C107.17,271.32 113.23,274.05 118.2,275.8C123.17,277.55 128.97,279.55 133.1,280.1C137.23,280.65 139.68,279.82 143,279.1C146.32,278.38 148.87,276.88 153,275.8C157.13,274.72 163.05,273.22 167.8,272.6C172.55,271.98 179.22,272.18 181.5,272.1" fill="none" stroke="#5aab94" stroke-width="0.95"/>
<path d="M16.5,300.4C18.57,299.77 25.18,297.77 28.9,296.6C32.62,295.43 35.08,294.63 38.8,293.4C42.52,292.17 47.07,290.1 51.2,289.2C55.33,288.3 59.05,288 63.6,288C68.15,288 73.53,288.47 78.5,289.2C83.47,289.93 88.43,290.95 93.4,292.4C98.37,293.85 103.75,295.95 108.3,297.9C112.85,299.85 116.57,302.45 120.7,304.1C124.83,305.75 129.38,306.85 133.1,307.8C136.82,308.75 138.87,309.58 143,309.8C147.13,310.02 153.35,309.43 157.9,309.1C162.45,308.77 166.37,308.13 170.3,307.8C174.23,307.47 179.63,307.22 181.5,307.1" fill="none" stroke="#7aa596" stroke-width="0.95"/>
<path d="M16.5,299.1C18.57,298.57 25.18,296.72 28.9,295.9C32.62,295.08 35.08,294.78 38.8,294.2C42.52,293.62 47.48,292.7 51.2,292.4C54.92,292.1 57.37,291.98 61.1,292.4C64.83,292.82 69.87,293.9 73.6,294.9C77.33,295.9 81.03,297.28 83.5,298.4C85.97,299.52 87.15,300.87 88.4,301.6C89.65,302.33 90.25,302.77 91,302.8C91.75,302.83 92.23,301.68 92.9,301.8C93.57,301.92 94.08,302.83 95,303.5C95.92,304.17 96.18,304.75 98.4,305.8C100.62,306.85 105,308.85 108.3,309.8C111.6,310.75 114.9,311.5 118.2,311.5C121.5,311.5 124.78,310.62 128.1,309.8C131.42,308.98 133.95,307.68 138.1,306.6C142.25,305.52 148.05,303.85 153,303.3C157.95,302.75 163.05,303.08 167.8,303.3C172.55,303.52 179.22,304.38 181.5,304.6" fill="none" stroke="#36a0b8" stroke-width="0.95"/>
<path d="M16.5,326.4C18.57,326.12 25.18,325.32 28.9,324.7C32.62,324.08 35.5,323.23 38.8,322.7C42.1,322.17 45.38,321.62 48.7,321.5C52.02,321.38 55.38,321.6 58.7,322C62.02,322.4 64.47,322.75 68.6,323.9C72.73,325.05 78.53,327.03 83.5,328.9C88.47,330.77 93.43,333.03 98.4,335.1C103.37,337.17 109.17,339.98 113.3,341.3C117.43,342.62 119.9,343 123.2,343C126.5,343 128.97,342.12 133.1,341.3C137.23,340.48 143.03,339.05 148,338.1C152.97,337.15 157.32,336.1 162.9,335.6C168.48,335.1 178.4,335.18 181.5,335.1" fill="none" stroke="#3fa0ba" stroke-width="0.95"/>
<path d="M16.5,326.4C18.57,326.28 24.35,325.82 28.9,325.7C33.45,325.58 39.25,325.45 43.8,325.7C48.35,325.95 52.07,326.25 56.2,327.2C60.33,328.15 64.47,329.87 68.6,331.4C72.73,332.93 77.28,334.87 81,336.4C84.72,337.93 88.83,339.93 90.9,340.6C92.97,341.27 92.72,340.3 93.4,340.4C94.08,340.5 93.35,340.83 95,341.2C96.65,341.57 100.25,342.58 103.3,342.6C106.35,342.62 109.57,342.13 113.3,341.3C117.03,340.47 121.57,338.72 125.7,337.6C129.83,336.48 133.97,335.22 138.1,334.6C142.23,333.98 145.95,333.82 150.5,333.9C155.05,333.98 160.23,334.37 165.4,335.1C170.57,335.83 178.82,337.77 181.5,338.3" fill="none" stroke="#3a8fcc" stroke-width="0.95"/>
<path d="M16.5,356.2C18.57,355.98 24.77,355.23 28.9,354.9C33.03,354.57 37.17,354.12 41.3,354.2C45.43,354.28 49.57,354.53 53.7,355.4C57.83,356.27 61.55,357.75 66.1,359.4C70.65,361.05 76.03,363.35 81,365.3C85.97,367.25 91.35,369.6 95.9,371.1C100.45,372.6 104.58,373.9 108.3,374.3C112.02,374.7 114.48,374.25 118.2,373.5C121.92,372.75 126.05,371.03 130.6,369.8C135.15,368.57 140.12,366.85 145.5,366.1C150.88,365.35 156.9,365.43 162.9,365.3C168.9,365.17 178.4,365.3 181.5,365.3" fill="none" stroke="#2b96c8" stroke-width="0.95"/>
<path d="M16.5,357.9C18.57,357.95 24.35,358.03 28.9,358.2C33.45,358.37 39.25,358.42 43.8,358.9C48.35,359.38 52.07,359.9 56.2,361.1C60.33,362.3 64.47,364.43 68.6,366.1C72.73,367.77 77.28,369.95 81,371.1C84.72,372.25 87.6,372.88 90.9,373C94.2,373.12 97.07,372.75 100.8,371.8C104.53,370.85 109.15,368.45 113.3,367.3C117.45,366.15 121.57,365.38 125.7,364.9C129.83,364.42 133.55,364.2 138.1,364.4C142.65,364.6 148.05,365.2 153,366.1C157.95,367 163.05,368.68 167.8,369.8C172.55,370.92 179.22,372.3 181.5,372.8" fill="none" stroke="#7078c8" stroke-width="0.95"/>
<path d="M16.5,385.4C18.15,385.28 23.1,384.82 26.4,384.7C29.7,384.58 32.98,384.42 36.3,384.7C39.62,384.98 42.57,385.37 46.3,386.4C50.03,387.43 54.57,389.32 58.7,390.9C62.83,392.48 66.97,394.25 71.1,395.9C75.23,397.55 79.37,399.57 83.5,400.8C87.63,402.03 91.77,403.17 95.9,403.3C100.03,403.43 104.17,402.83 108.3,401.6C112.43,400.37 116.57,397.4 120.7,395.9C124.83,394.4 128.97,393.23 133.1,392.6C137.23,391.97 140.53,391.88 145.5,392.1C150.47,392.32 156.9,393.27 162.9,393.9C168.9,394.53 178.4,395.57 181.5,395.9" fill="none" stroke="#5f6fd0" stroke-width="0.95"/>
<path d="M16.5,388.4C18.57,388.62 24.77,389.28 28.9,389.7C33.03,390.12 37.17,390.2 41.3,390.9C45.43,391.6 49.57,392.65 53.7,393.9C57.83,395.15 61.97,397.25 66.1,398.4C70.23,399.55 74.78,400.4 78.5,400.8C82.22,401.2 84.68,401.42 88.4,400.8C92.12,400.18 96.65,398.22 100.8,397.1C104.95,395.98 109.15,394.72 113.3,394.1C117.45,393.48 121.57,393.18 125.7,393.4C129.83,393.62 133.55,394.37 138.1,395.4C142.65,396.43 148.05,398.2 153,399.6C157.95,401 163.05,402.48 167.8,403.8C172.55,405.12 179.22,406.88 181.5,407.5" fill="none" stroke="#a07ab8" stroke-width="0.95"/>
<line x1="16.3" y1="254.5" x2="181.5" y2="254.5" stroke="#9c9c9c" stroke-width="0.9"/>
<line x1="16.3" y1="285.5" x2="181.5" y2="285.5" stroke="#9c9c9c" stroke-width="0.9"/>
<line x1="16.3" y1="316.5" x2="181.5" y2="316.5" stroke="#9c9c9c" stroke-width="0.9"/>
<line x1="16.3" y1="347.5" x2="181.5" y2="347.5" stroke="#9c9c9c" stroke-width="0.9"/>
<line x1="16.3" y1="379.5" x2="181.5" y2="379.5" stroke="#9c9c9c" stroke-width="0.9"/>
<line x1="16.3" y1="223.5" x2="181.5" y2="223.5" stroke="#9c9c9c" stroke-width="0.9"/>
<line x1="181.5" y1="223.5" x2="181.5" y2="410.5" stroke="#8c8c8c" stroke-width="0.9"/>
<line x1="16.3" y1="223.5" x2="16.3" y2="410.5" stroke="#555" stroke-width="0.9"/>
<line x1="16.3" y1="410.5" x2="181.5" y2="410.5" stroke="#555" stroke-width="0.9"/>
<rect x="189.3" y="239.7" width="14.4" height="14.4" fill="#c0aa68" stroke="#3a3a3a" stroke-width="0.6"/>
<rect x="210.3" y="239.7" width="14.4" height="14.4" fill="#9fb07d" stroke="#3a3a3a" stroke-width="0.6"/>
<rect x="189.3" y="270.9" width="14.4" height="14.4" fill="#9eab7e" stroke="#3a3a3a" stroke-width="0.6"/>
<rect x="210.3" y="270.9" width="14.4" height="14.4" fill="#6aad96" stroke="#3a3a3a" stroke-width="0.6"/>
<rect x="189.3" y="302.1" width="14.4" height="14.4" fill="#7fa39a" stroke="#3a3a3a" stroke-width="0.6"/>
<rect x="210.3" y="302.1" width="14.4" height="14.4" fill="#3b9fb2" stroke="#3a3a3a" stroke-width="0.6"/>
<rect x="189.3" y="333.3" width="14.4" height="14.4" fill="#4c9eb2" stroke="#3a3a3a" stroke-width="0.6"/>
<rect x="210.3" y="333.3" width="14.4" height="14.4" fill="#3a8fc6" stroke="#3a3a3a" stroke-width="0.6"/>
<rect x="189.3" y="364.5" width="14.4" height="14.4" fill="#2e92c1" stroke="#3a3a3a" stroke-width="0.6"/>
<rect x="210.3" y="364.5" width="14.4" height="14.4" fill="#7a80c4" stroke="#3a3a3a" stroke-width="0.6"/>
<rect x="189.3" y="395.7" width="14.4" height="14.4" fill="#6e78c4" stroke="#3a3a3a" stroke-width="0.6"/>
<rect x="210.3" y="395.7" width="14.4" height="14.4" fill="#a083b8" stroke="#3a3a3a" stroke-width="0.6"/>
<text x="196.9" y="237.6" font-size="9.8" text-anchor="middle" font-weight="normal" fill="#231f20" stroke="#231f20" stroke-width="0.22" >M</text>
<text x="218.1" y="237.6" font-size="9.8" text-anchor="middle" font-weight="normal" fill="#231f20" stroke="#231f20" stroke-width="0.22" >R</text>
<text x="98.1" y="220" font-size="8.4" text-anchor="middle" font-weight="normal" fill="#231f20" stroke="#231f20" stroke-width="0.2" >Sim.</text>
<text x="24.17" y="422.6" font-size="8.7" text-anchor="middle" font-weight="normal" fill="#231f20" stroke="#231f20" stroke-width="0.22" >400</text>
<text x="63.5" y="422.6" font-size="8.7" text-anchor="middle" font-weight="normal" fill="#231f20" stroke="#231f20" stroke-width="0.22" >500</text>
<text x="102.83" y="422.6" font-size="8.7" text-anchor="middle" font-weight="normal" fill="#231f20" stroke="#231f20" stroke-width="0.22" >600</text>
<text x="142.17" y="422.6" font-size="8.7" text-anchor="middle" font-weight="normal" fill="#231f20" stroke="#231f20" stroke-width="0.22" >700</text>
<text x="181.5" y="422.6" font-size="8.7" text-anchor="middle" font-weight="normal" fill="#231f20" stroke="#231f20" stroke-width="0.22" >800</text>
<text x="10.8" y="382.4" font-size="8.7" text-anchor="end" font-weight="normal" fill="#231f20" stroke="#231f20" stroke-width="0.22" >60</text>
<text x="10.8" y="413.4" font-size="8.7" text-anchor="end" font-weight="normal" fill="#231f20" stroke="#231f20" stroke-width="0.22" >0</text>
<text x="99.4" y="438.4" font-size="8.7" text-anchor="middle" font-weight="normal" fill="#231f20" stroke="#231f20" stroke-width="0.22" >Wavelength (nm)</text>
<text x="0" y="0" font-size="8.6" text-anchor="middle" font-weight="normal" fill="#231f20" stroke="#231f20" stroke-width="0.21" transform="translate(8.4,316.6) rotate(-90)">Reflectance (%)</text>
<path d="M252,240.3C253.98,240.43 258.62,240.88 263.9,241.1C269.18,241.32 278.33,242.02 283.7,241.6C289.07,241.18 291.95,239.93 296.1,238.6C300.25,237.27 304.05,234.83 308.6,233.6C313.15,232.37 318.03,231.9 323.4,231.2C328.77,230.5 335.83,229.62 340.8,229.4C345.77,229.18 348.65,229.32 353.2,229.9C357.75,230.48 363.13,231.87 368.1,232.9C373.07,233.93 378.03,234.87 383,236.1C387.97,237.33 392.17,238.85 397.9,240.3C403.63,241.75 414.15,244.05 417.4,244.8" fill="none" stroke="#c09a68" stroke-width="0.95"/>
<path d="M252,241.8C253.98,241.8 258.62,241.83 263.9,241.8C269.18,241.77 278.33,242 283.7,241.6C289.07,241.2 291.95,240.1 296.1,239.4C300.25,238.7 304.05,237.82 308.6,237.4C313.15,236.98 318.45,237.2 323.4,236.9C328.35,236.6 333.75,235.73 338.3,235.6C342.85,235.47 346.57,235.47 350.7,236.1C354.83,236.73 358.55,238.15 363.1,239.4C367.65,240.65 373.03,242.48 378,243.6C382.97,244.72 388.35,245.57 392.9,246.1C397.45,246.63 401.22,246.8 405.3,246.8C409.38,246.8 415.38,246.22 417.4,246.1" fill="none" stroke="#a8a07e" stroke-width="0.95"/>
<path d="M252,271.4C253.98,271.52 258.62,271.9 263.9,272.1C269.18,272.3 278.33,273.02 283.7,272.6C289.07,272.18 291.95,270.83 296.1,269.6C300.25,268.37 304.05,266.43 308.6,265.2C313.15,263.97 318.03,263.03 323.4,262.2C328.77,261.37 335.83,260.5 340.8,260.2C345.77,259.9 348.65,259.87 353.2,260.4C357.75,260.93 363.13,262.28 368.1,263.4C373.07,264.52 378.03,265.85 383,267.1C387.97,268.35 392.17,269.57 397.9,270.9C403.63,272.23 414.15,274.4 417.4,275.1" fill="none" stroke="#bc9c68" stroke-width="0.95"/>
<path d="M252,272.1C253.98,272.18 258.62,272.52 263.9,272.6C269.18,272.68 278.33,272.97 283.7,272.6C289.07,272.23 291.95,271.1 296.1,270.4C300.25,269.7 304.05,268.82 308.6,268.4C313.15,267.98 318.45,268.18 323.4,267.9C328.35,267.62 333.75,266.83 338.3,266.7C342.85,266.57 346.57,266.48 350.7,267.1C354.83,267.72 358.55,269.23 363.1,270.4C367.65,271.57 373.03,272.98 378,274.1C382.97,275.22 388.35,276.48 392.9,277.1C397.45,277.72 401.22,277.8 405.3,277.8C409.38,277.8 415.38,277.22 417.4,277.1" fill="none" stroke="#a8a080" stroke-width="0.95"/>
<path d="M252,301.6C253.98,301.68 259.85,302.3 263.9,302.1C267.95,301.9 272.17,301.72 276.3,300.4C280.43,299.08 284.98,296.07 288.7,294.2C292.42,292.33 295.28,290.23 298.6,289.2C301.92,288.17 304.87,288 308.6,288C312.33,288 316.47,288.38 321,289.2C325.53,290.02 330.43,291.45 335.8,292.9C341.17,294.35 347.4,296.03 353.2,297.9C359,299.77 364.8,302.32 370.6,304.1C376.4,305.88 382.63,307.57 388,308.6C393.37,309.63 397.9,309.9 402.8,310.3C407.7,310.7 414.97,310.88 417.4,311" fill="none" stroke="#88b288" stroke-width="0.95"/>
<path d="M252,302.9C253.98,302.82 259.85,302.9 263.9,302.4C267.95,301.9 272.17,301.07 276.3,299.9C280.43,298.73 284.57,296.48 288.7,295.4C292.83,294.32 297.38,293.6 301.1,293.4C304.82,293.2 307.28,293.45 311,294.2C314.72,294.95 318.85,296.67 323.4,297.9C327.95,299.13 332.92,300.28 338.3,301.6C343.68,302.92 349.9,304.47 355.7,305.8C361.5,307.13 367.72,308.85 373.1,309.6C378.48,310.35 383.05,310.35 388,310.3C392.95,310.25 397.9,309.8 402.8,309.3C407.7,308.8 414.97,307.63 417.4,307.3" fill="none" stroke="#5fa598" stroke-width="0.95"/>
<path d="M252,335.1C253.98,334.68 259.85,333.83 263.9,332.6C267.95,331.37 272.17,329.15 276.3,327.7C280.43,326.25 284.57,324.82 288.7,323.9C292.83,322.98 296.97,322.32 301.1,322.2C305.23,322.08 309.37,322.5 313.5,323.2C317.63,323.9 321.77,324.92 325.9,326.4C330.03,327.88 334.17,330.15 338.3,332.1C342.43,334.05 346.57,336.43 350.7,338.1C354.83,339.77 358.95,341.35 363.1,342.1C367.25,342.85 371.05,342.73 375.6,342.6C380.15,342.47 385.87,341.63 390.4,341.3C394.93,340.97 398.3,340.88 402.8,340.6C407.3,340.32 414.97,339.77 417.4,339.6" fill="none" stroke="#6aa898" stroke-width="0.95"/>
<path d="M252,335.1C253.98,334.82 259.85,334.3 263.9,333.4C267.95,332.5 272.17,330.82 276.3,329.7C280.43,328.58 284.57,327.12 288.7,326.7C292.83,326.28 296.97,326.42 301.1,327.2C305.23,327.98 309.37,330 313.5,331.4C317.63,332.8 321.77,334.15 325.9,335.6C330.03,337.05 334.17,338.93 338.3,340.1C342.43,341.27 346.57,342.12 350.7,342.6C354.83,343.08 358.95,343.08 363.1,343C367.25,342.92 371.05,342.58 375.6,342.1C380.15,341.62 385.87,340.65 390.4,340.1C394.93,339.55 398.3,339.13 402.8,338.8C407.3,338.47 414.97,338.22 417.4,338.1" fill="none" stroke="#3aa5b4" stroke-width="0.95"/>
<path d="M252,356.2C253.98,355.65 259.85,353.65 263.9,352.9C267.95,352.15 272.17,351.65 276.3,351.7C280.43,351.75 284.57,352.25 288.7,353.2C292.83,354.15 296.97,355.67 301.1,357.4C305.23,359.13 309.37,361.53 313.5,363.6C317.63,365.67 322.18,368.15 325.9,369.8C329.62,371.45 332.48,372.67 335.8,373.5C339.12,374.33 342.07,374.92 345.8,374.8C349.53,374.68 353.65,373.63 358.2,372.8C362.75,371.97 368.13,370.63 373.1,369.8C378.07,368.97 383.05,368.33 388,367.8C392.95,367.27 397.9,366.88 402.8,366.6C407.7,366.32 414.97,366.18 417.4,366.1" fill="none" stroke="#1a90d0" stroke-width="0.95"/>
<path d="M252,357.4C253.98,357.07 259.85,355.73 263.9,355.4C267.95,355.07 272.17,354.98 276.3,355.4C280.43,355.82 284.57,356.73 288.7,357.9C292.83,359.07 296.97,360.75 301.1,362.4C305.23,364.05 309.37,366.07 313.5,367.8C317.63,369.53 322.18,371.72 325.9,372.8C329.62,373.88 332.07,374.38 335.8,374.3C339.53,374.22 344.15,373.05 348.3,372.3C352.45,371.55 356.57,370.42 360.7,369.8C364.83,369.18 368.55,368.8 373.1,368.6C377.65,368.4 383.05,368.48 388,368.6C392.95,368.72 397.9,369.02 402.8,369.3C407.7,369.58 414.97,370.13 417.4,370.3" fill="none" stroke="#4f74cc" stroke-width="0.95"/>
<path d="M252,388.4C253.98,387.9 259.85,386.13 263.9,385.4C267.95,384.67 272.17,384.03 276.3,384C280.43,383.97 284.57,384.25 288.7,385.2C292.83,386.15 296.97,387.92 301.1,389.7C305.23,391.48 309.37,393.92 313.5,395.9C317.63,397.88 321.77,400.23 325.9,401.6C330.03,402.97 334.17,403.93 338.3,404.1C342.43,404.27 346.57,403.27 350.7,402.6C354.83,401.93 358.55,400.88 363.1,400.1C367.65,399.32 373.03,398.35 378,397.9C382.97,397.45 386.33,397.45 392.9,397.4C399.47,397.35 413.32,397.57 417.4,397.6" fill="none" stroke="#3f88cc" stroke-width="0.95"/>
<path d="M252,387.9C253.98,387.78 259.85,387.23 263.9,387.2C267.95,387.17 272.17,387.08 276.3,387.7C280.43,388.32 284.57,389.53 288.7,390.9C292.83,392.27 296.97,394.25 301.1,395.9C305.23,397.55 309.78,399.43 313.5,400.8C317.22,402.17 320.08,403.55 323.4,404.1C326.72,404.65 329.67,404.52 333.4,404.1C337.13,403.68 341.25,402.35 345.8,401.6C350.35,400.85 356.15,400.02 360.7,399.6C365.25,399.18 368.55,399.02 373.1,399.1C377.65,399.18 383.05,399.68 388,400.1C392.95,400.52 397.9,401.15 402.8,401.6C407.7,402.05 414.97,402.6 417.4,402.8" fill="none" stroke="#7474c8" stroke-width="0.95"/>
<line x1="251.6" y1="254.5" x2="417.4" y2="254.5" stroke="#9c9c9c" stroke-width="0.9"/>
<line x1="251.6" y1="285.5" x2="417.4" y2="285.5" stroke="#9c9c9c" stroke-width="0.9"/>
<line x1="251.6" y1="316.5" x2="417.4" y2="316.5" stroke="#9c9c9c" stroke-width="0.9"/>
<line x1="251.6" y1="347.5" x2="417.4" y2="347.5" stroke="#9c9c9c" stroke-width="0.9"/>
<line x1="251.6" y1="379.5" x2="417.4" y2="379.5" stroke="#9c9c9c" stroke-width="0.9"/>
<line x1="251.6" y1="223.5" x2="417.4" y2="223.5" stroke="#9c9c9c" stroke-width="0.9"/>
<line x1="417.4" y1="223.5" x2="417.4" y2="410.5" stroke="#8c8c8c" stroke-width="0.9"/>
<line x1="251.6" y1="223.5" x2="251.6" y2="410.5" stroke="#555" stroke-width="0.9"/>
<line x1="251.6" y1="410.5" x2="417.4" y2="410.5" stroke="#555" stroke-width="0.9"/>
<rect x="425.6" y="239.7" width="14.4" height="14.4" fill="#c39582" stroke="#3a3a3a" stroke-width="0.6"/>
<rect x="447" y="239.7" width="14.4" height="14.4" fill="#b29b8f" stroke="#3a3a3a" stroke-width="0.6"/>
<rect x="425.6" y="270.9" width="14.4" height="14.4" fill="#b8a57d" stroke="#3a3a3a" stroke-width="0.6"/>
<rect x="447" y="270.9" width="14.4" height="14.4" fill="#a9a688" stroke="#3a3a3a" stroke-width="0.6"/>
<rect x="425.6" y="302.1" width="14.4" height="14.4" fill="#8fb08e" stroke="#3a3a3a" stroke-width="0.6"/>
<rect x="447" y="302.1" width="14.4" height="14.4" fill="#72a99a" stroke="#3a3a3a" stroke-width="0.6"/>
<rect x="425.6" y="333.3" width="14.4" height="14.4" fill="#72a89b" stroke="#3a3a3a" stroke-width="0.6"/>
<rect x="447" y="333.3" width="14.4" height="14.4" fill="#45a5ad" stroke="#3a3a3a" stroke-width="0.6"/>
<rect x="425.6" y="364.5" width="14.4" height="14.4" fill="#0d8ac8" stroke="#3a3a3a" stroke-width="0.6"/>
<rect x="447" y="364.5" width="14.4" height="14.4" fill="#4e79c4" stroke="#3a3a3a" stroke-width="0.6"/>
<rect x="425.6" y="395.7" width="14.4" height="14.4" fill="#4882c0" stroke="#3a3a3a" stroke-width="0.6"/>
<rect x="447" y="395.7" width="14.4" height="14.4" fill="#7a78c0" stroke="#3a3a3a" stroke-width="0.6"/>
<text x="433.2" y="237.6" font-size="9.8" text-anchor="middle" font-weight="normal" fill="#231f20" stroke="#231f20" stroke-width="0.22" >M</text>
<text x="454.8" y="237.6" font-size="9.8" text-anchor="middle" font-weight="normal" fill="#231f20" stroke="#231f20" stroke-width="0.22" >R</text>
<text x="329" y="220" font-size="8.4" text-anchor="middle" font-weight="normal" fill="#231f20" stroke="#231f20" stroke-width="0.2" >Exp.</text>
<text x="259.5" y="422.6" font-size="8.7" text-anchor="middle" font-weight="normal" fill="#231f20" stroke="#231f20" stroke-width="0.22" >400</text>
<text x="298.97" y="422.6" font-size="8.7" text-anchor="middle" font-weight="normal" fill="#231f20" stroke="#231f20" stroke-width="0.22" >500</text>
<text x="338.45" y="422.6" font-size="8.7" text-anchor="middle" font-weight="normal" fill="#231f20" stroke="#231f20" stroke-width="0.22" >600</text>
<text x="377.92" y="422.6" font-size="8.7" text-anchor="middle" font-weight="normal" fill="#231f20" stroke="#231f20" stroke-width="0.22" >700</text>
<text x="417.4" y="422.6" font-size="8.7" text-anchor="middle" font-weight="normal" fill="#231f20" stroke="#231f20" stroke-width="0.22" >800</text>
<text x="246.2" y="382.4" font-size="8.7" text-anchor="end" font-weight="normal" fill="#231f20" stroke="#231f20" stroke-width="0.22" >60</text>
<text x="246.2" y="413.4" font-size="8.7" text-anchor="end" font-weight="normal" fill="#231f20" stroke="#231f20" stroke-width="0.22" >0</text>
<text x="335" y="438.4" font-size="8.7" text-anchor="middle" font-weight="normal" fill="#231f20" stroke="#231f20" stroke-width="0.22" >Wavelength (nm)</text>
<text x="0" y="0" font-size="8.6" text-anchor="middle" font-weight="normal" fill="#231f20" stroke="#231f20" stroke-width="0.21" transform="translate(244.4,314.5) rotate(-90)">Reflectance (%)</text>
<text x="-0.6" y="220.8" font-size="14.5" text-anchor="start" font-weight="bold" fill="#000" >d</text>
<rect x="503.5" y="220.5" width="176" height="36" fill="none" stroke="#231f20" stroke-width="0.8"/>
<line x1="510.02" y1="256.5" x2="510.02" y2="258.7" stroke="#231f20" stroke-width="0.7"/>
<text x="510.02" y="266.7" font-size="8.7" text-anchor="middle" font-weight="normal" fill="#231f20" stroke="#231f20" stroke-width="0.22" >350</text>
<line x1="526.31" y1="256.5" x2="526.31" y2="257.8" stroke="#231f20" stroke-width="0.7"/>
<line x1="542.61" y1="256.5" x2="542.61" y2="258.7" stroke="#231f20" stroke-width="0.7"/>
<text x="542.61" y="266.7" font-size="8.7" text-anchor="middle" font-weight="normal" fill="#231f20" stroke="#231f20" stroke-width="0.22" >400</text>
<line x1="558.91" y1="256.5" x2="558.91" y2="257.8" stroke="#231f20" stroke-width="0.7"/>
<line x1="575.2" y1="256.5" x2="575.2" y2="258.7" stroke="#231f20" stroke-width="0.7"/>
<text x="575.2" y="266.7" font-size="8.7" text-anchor="middle" font-weight="normal" fill="#231f20" stroke="#231f20" stroke-width="0.22" >450</text>
<line x1="591.5" y1="256.5" x2="591.5" y2="257.8" stroke="#231f20" stroke-width="0.7"/>
<line x1="607.8" y1="256.5" x2="607.8" y2="258.7" stroke="#231f20" stroke-width="0.7"/>
<text x="607.8" y="266.7" font-size="8.7" text-anchor="middle" font-weight="normal" fill="#231f20" stroke="#231f20" stroke-width="0.22" >500</text>
<line x1="624.09" y1="256.5" x2="624.09" y2="257.8" stroke="#231f20" stroke-width="0.7"/>
<line x1="640.39" y1="256.5" x2="640.39" y2="258.7" stroke="#231f20" stroke-width="0.7"/>
<text x="640.39" y="266.7" font-size="8.7" text-anchor="middle" font-weight="normal" fill="#231f20" stroke="#231f20" stroke-width="0.22" >550</text>
<line x1="656.69" y1="256.5" x2="656.69" y2="257.8" stroke="#231f20" stroke-width="0.7"/>
<line x1="672.98" y1="256.5" x2="672.98" y2="258.7" stroke="#231f20" stroke-width="0.7"/>
<text x="672.98" y="266.7" font-size="8.7" text-anchor="middle" font-weight="normal" fill="#231f20" stroke="#231f20" stroke-width="0.22" >600</text>
<line x1="501.3" y1="256.5" x2="503.5" y2="256.5" stroke="#231f20" stroke-width="0.7"/>
<text x="498.1" y="259.6" font-size="8.7" text-anchor="end" font-weight="normal" fill="#231f20" stroke="#231f20" stroke-width="0.22" >0</text>
<line x1="501.3" y1="220.5" x2="503.5" y2="220.5" stroke="#231f20" stroke-width="0.7"/>
<text x="498.1" y="223.6" font-size="8.7" text-anchor="end" font-weight="normal" fill="#231f20" stroke="#231f20" stroke-width="0.22" >30</text>
<line x1="502.2" y1="244.5" x2="503.5" y2="244.5" stroke="#231f20" stroke-width="0.7"/>
<line x1="502.2" y1="232.5" x2="503.5" y2="232.5" stroke="#231f20" stroke-width="0.7"/>
<path d="M509.2,237.3C514.8,235.27 531.82,225.93 542.8,225.1C553.78,224.27 564.22,231.57 575.1,232.3C585.98,233.03 597.22,230.13 608.1,229.5C618.98,228.87 629.52,227.98 640.4,228.5C651.28,229.02 667.9,231.92 673.4,232.6" fill="none" stroke="#5aa7de" stroke-width="1"/>
<circle cx="509.2" cy="237.3" r="1.6" fill="#7dbbe8" stroke="#4a98d4" stroke-width="0.5"/>
<circle cx="542.8" cy="225.1" r="1.6" fill="#7dbbe8" stroke="#4a98d4" stroke-width="0.5"/>
<circle cx="575.1" cy="232.3" r="1.6" fill="#7dbbe8" stroke="#4a98d4" stroke-width="0.5"/>
<circle cx="608.1" cy="229.5" r="1.6" fill="#7dbbe8" stroke="#4a98d4" stroke-width="0.5"/>
<circle cx="640.4" cy="228.5" r="1.6" fill="#7dbbe8" stroke="#4a98d4" stroke-width="0.5"/>
<circle cx="673.4" cy="232.6" r="1.6" fill="#7dbbe8" stroke="#4a98d4" stroke-width="0.5"/>
<text x="591.5" y="274.8" font-size="8.7" text-anchor="middle" font-weight="normal" fill="#231f20" stroke="#231f20" stroke-width="0.22" >Central wavelength (nm)</text>
<text x="0" y="0" font-size="8.7" text-anchor="middle" font-weight="normal" fill="#231f20" stroke="#231f20" stroke-width="0.22" transform="translate(485.6,237.5) rotate(-90)">Δ<tspan font-style="italic">E</tspan></text>
<text x="476.3" y="220.1" font-size="14.5" text-anchor="start" font-weight="bold" fill="#000" >e</text>
<path d="M541.89,409.12C541.86,409.12 541.77,409.14 541.71,409.15C541.66,409.15 541.63,409.16 541.56,409.15C541.49,409.14 541.43,409.16 541.29,409.1C541.16,409.05 541,408.97 540.74,408.82C540.49,408.67 540.2,408.48 539.75,408.2C539.3,407.91 538.78,407.62 538.03,407.13C537.28,406.64 536.03,405.83 535.25,405.25C534.48,404.68 534.11,404.39 533.38,403.66C532.65,402.93 531.82,402.08 530.86,400.86C529.91,399.64 528.87,398.28 527.67,396.32C526.46,394.37 525.13,392.11 523.63,389.15C522.13,386.18 520.34,382.74 518.65,378.51C516.96,374.28 515.17,369.29 513.51,363.76C511.85,358.24 510.05,351.7 508.68,345.35C507.31,339.01 506.03,332 505.31,325.69C504.59,319.38 504.15,313.01 504.36,307.49C504.57,301.97 505.28,296.67 506.56,292.57C507.85,288.47 509.86,285.08 512.08,282.9C514.3,280.72 517.12,279.86 519.88,279.49C522.65,279.12 525.73,279.96 528.68,280.68C531.64,281.41 534.72,282.69 537.61,283.86C540.5,285.02 543.28,286.31 546.03,287.66C548.79,289 551.45,290.43 554.13,291.93C556.81,293.42 559.46,295 562.11,296.62C564.75,298.24 567.38,299.92 570,301.62C572.63,303.33 575.25,305.08 577.87,306.85C580.5,308.62 583.14,310.42 585.77,312.23C588.39,314.03 591.01,315.87 593.62,317.69C596.23,319.51 598.85,321.34 601.42,323.14C604,324.95 606.56,326.77 609.08,328.54C611.59,330.32 614.08,332.08 616.51,333.8C618.93,335.51 621.32,337.21 623.63,338.83C625.93,340.46 628.2,342.05 630.33,343.56C632.47,345.06 634.54,346.54 636.44,347.89C638.34,349.24 640.09,350.47 641.75,351.64C643.42,352.82 645,353.94 646.43,354.94C647.85,355.94 648.72,356.54 650.31,357.66C651.9,358.79 654.43,360.59 655.98,361.68C657.52,362.78 658.58,363.52 659.59,364.23C660.6,364.95 661.37,365.5 662.04,365.97C662.7,366.44 663.18,366.76 663.58,367.05C663.99,367.33 664.19,367.48 664.47,367.67C664.74,367.86 665.04,368.08 665.21,368.2C665.39,368.33 665.45,368.37 665.5,368.41 Z" fill="none" stroke="#6a5acd" stroke-width="0.6" opacity="0.8"/>
<rect x="503.5" y="276.5" width="176" height="133.4" fill="none" stroke="#231f20" stroke-width="0.8"/>
<line x1="503.5" y1="409.9" x2="503.5" y2="412.1" stroke="#231f20" stroke-width="0.7"/>
<text x="503.5" y="425.3" font-size="8.7" text-anchor="middle" font-weight="normal" fill="#231f20" stroke="#231f20" stroke-width="0.22" >0.0</text>
<line x1="514.52" y1="409.9" x2="514.52" y2="411.2" stroke="#231f20" stroke-width="0.7"/>
<line x1="525.55" y1="409.9" x2="525.55" y2="412.1" stroke="#231f20" stroke-width="0.7"/>
<text x="525.55" y="425.3" font-size="8.7" text-anchor="middle" font-weight="normal" fill="#231f20" stroke="#231f20" stroke-width="0.22" >0.1</text>
<line x1="536.58" y1="409.9" x2="536.58" y2="411.2" stroke="#231f20" stroke-width="0.7"/>
<line x1="547.6" y1="409.9" x2="547.6" y2="412.1" stroke="#231f20" stroke-width="0.7"/>
<text x="547.6" y="425.3" font-size="8.7" text-anchor="middle" font-weight="normal" fill="#231f20" stroke="#231f20" stroke-width="0.22" >0.2</text>
<line x1="558.62" y1="409.9" x2="558.62" y2="411.2" stroke="#231f20" stroke-width="0.7"/>
<line x1="569.65" y1="409.9" x2="569.65" y2="412.1" stroke="#231f20" stroke-width="0.7"/>
<text x="569.65" y="425.3" font-size="8.7" text-anchor="middle" font-weight="normal" fill="#231f20" stroke="#231f20" stroke-width="0.22" >0.3</text>
<line x1="580.67" y1="409.9" x2="580.67" y2="411.2" stroke="#231f20" stroke-width="0.7"/>
<line x1="591.7" y1="409.9" x2="591.7" y2="412.1" stroke="#231f20" stroke-width="0.7"/>
<text x="591.7" y="425.3" font-size="8.7" text-anchor="middle" font-weight="normal" fill="#231f20" stroke="#231f20" stroke-width="0.22" >0.4</text>
<line x1="602.73" y1="409.9" x2="602.73" y2="411.2" stroke="#231f20" stroke-width="0.7"/>
<line x1="613.75" y1="409.9" x2="613.75" y2="412.1" stroke="#231f20" stroke-width="0.7"/>
<text x="613.75" y="425.3" font-size="8.7" text-anchor="middle" font-weight="normal" fill="#231f20" stroke="#231f20" stroke-width="0.22" >0.5</text>
<line x1="624.77" y1="409.9" x2="624.77" y2="411.2" stroke="#231f20" stroke-width="0.7"/>
<line x1="635.8" y1="409.9" x2="635.8" y2="412.1" stroke="#231f20" stroke-width="0.7"/>
<text x="635.8" y="425.3" font-size="8.7" text-anchor="middle" font-weight="normal" fill="#231f20" stroke="#231f20" stroke-width="0.22" >0.6</text>
<line x1="646.83" y1="409.9" x2="646.83" y2="411.2" stroke="#231f20" stroke-width="0.7"/>
<line x1="657.85" y1="409.9" x2="657.85" y2="412.1" stroke="#231f20" stroke-width="0.7"/>
<text x="657.85" y="425.3" font-size="8.7" text-anchor="middle" font-weight="normal" fill="#231f20" stroke="#231f20" stroke-width="0.22" >0.7</text>
<line x1="668.88" y1="409.9" x2="668.88" y2="411.2" stroke="#231f20" stroke-width="0.7"/>
<line x1="679.9" y1="409.9" x2="679.9" y2="412.1" stroke="#231f20" stroke-width="0.7"/>
<text x="679.9" y="425.3" font-size="8.7" text-anchor="middle" font-weight="normal" fill="#231f20" stroke="#231f20" stroke-width="0.22" >0.8</text>
<line x1="501.3" y1="409.9" x2="503.5" y2="409.9" stroke="#231f20" stroke-width="0.7"/>
<text x="495.9" y="413" font-size="8.7" text-anchor="end" font-weight="normal" fill="#231f20" stroke="#231f20" stroke-width="0.22" >0.0</text>
<line x1="502.2" y1="394.26" x2="503.5" y2="394.26" stroke="#231f20" stroke-width="0.7"/>
<line x1="501.3" y1="378.62" x2="503.5" y2="378.62" stroke="#231f20" stroke-width="0.7"/>
<text x="495.9" y="381.72" font-size="8.7" text-anchor="end" font-weight="normal" fill="#231f20" stroke="#231f20" stroke-width="0.22" >0.2</text>
<line x1="502.2" y1="362.98" x2="503.5" y2="362.98" stroke="#231f20" stroke-width="0.7"/>
<line x1="501.3" y1="347.34" x2="503.5" y2="347.34" stroke="#231f20" stroke-width="0.7"/>
<text x="495.9" y="350.44" font-size="8.7" text-anchor="end" font-weight="normal" fill="#231f20" stroke="#231f20" stroke-width="0.22" >0.4</text>
<line x1="502.2" y1="331.7" x2="503.5" y2="331.7" stroke="#231f20" stroke-width="0.7"/>
<line x1="501.3" y1="316.06" x2="503.5" y2="316.06" stroke="#231f20" stroke-width="0.7"/>
<text x="495.9" y="319.16" font-size="8.7" text-anchor="end" font-weight="normal" fill="#231f20" stroke="#231f20" stroke-width="0.22" >0.6</text>
<line x1="502.2" y1="300.42" x2="503.5" y2="300.42" stroke="#231f20" stroke-width="0.7"/>
<line x1="501.3" y1="284.78" x2="503.5" y2="284.78" stroke="#231f20" stroke-width="0.7"/>
<text x="495.9" y="287.88" font-size="8.7" text-anchor="end" font-weight="normal" fill="#231f20" stroke="#231f20" stroke-width="0.22" >0.8</text>
<text x="604.3" y="438.8" font-size="8.7" text-anchor="middle" font-weight="normal" fill="#231f20" stroke="#231f20" stroke-width="0.22" >x</text>
<text x="0" y="0" font-size="8.7" text-anchor="middle" font-weight="normal" fill="#231f20" stroke="#231f20" stroke-width="0.22" transform="translate(476.5,345.3) rotate(-90)">y</text>
<path d="M554.4,362.8 L564.7,353.7 L577,347.3 L587.4,345.7" fill="none" stroke="#c87070" stroke-width="0.4" opacity="0.6"/>
<path d="M550.4,370.9 L557.1,373.9 L568.5,370.6" fill="none" stroke="#6a8ac8" stroke-width="0.4" opacity="0.6"/>
<circle cx="587.4" cy="345.7" r="1.7" fill="#5d9ad6" stroke="#3f7fc0" stroke-width="0.3"/>
<circle cx="586.8" cy="345" r="0.7" fill="#fff" opacity="0.7"/>
<circle cx="577" cy="349.4" r="1.7" fill="#5d9ad6" stroke="#3f7fc0" stroke-width="0.3"/>
<circle cx="576.4" cy="348.7" r="0.7" fill="#fff" opacity="0.7"/>
<circle cx="593.3" cy="352.8" r="1.7" fill="#5d9ad6" stroke="#3f7fc0" stroke-width="0.3"/>
<circle cx="592.7" cy="352.1" r="0.7" fill="#fff" opacity="0.7"/>
<circle cx="566.4" cy="357.3" r="1.7" fill="#5d9ad6" stroke="#3f7fc0" stroke-width="0.3"/>
<circle cx="565.8" cy="356.6" r="0.7" fill="#fff" opacity="0.7"/>
<circle cx="590.8" cy="361.6" r="1.7" fill="#5d9ad6" stroke="#3f7fc0" stroke-width="0.3"/>
<circle cx="590.2" cy="360.9" r="0.7" fill="#fff" opacity="0.7"/>
<circle cx="575.9" cy="364.6" r="1.7" fill="#5d9ad6" stroke="#3f7fc0" stroke-width="0.3"/>
<circle cx="575.3" cy="363.9" r="0.7" fill="#fff" opacity="0.7"/>
<circle cx="565.4" cy="365.8" r="1.7" fill="#5d9ad6" stroke="#3f7fc0" stroke-width="0.3"/>
<circle cx="564.8" cy="365.1" r="0.7" fill="#fff" opacity="0.7"/>
<circle cx="564.7" cy="353.7" r="1.7" fill="#e4524c" stroke="#c03a36" stroke-width="0.3"/>
<circle cx="564.1" cy="353" r="0.7" fill="#fff" opacity="0.7"/>
<circle cx="577" cy="347.3" r="1.7" fill="#e4524c" stroke="#c03a36" stroke-width="0.3"/>
<circle cx="576.4" cy="346.6" r="0.7" fill="#fff" opacity="0.7"/>
<circle cx="585.5" cy="350.9" r="1.7" fill="#e4524c" stroke="#c03a36" stroke-width="0.3"/>
<circle cx="584.9" cy="350.2" r="0.7" fill="#fff" opacity="0.7"/>
<circle cx="587.9" cy="359.2" r="1.7" fill="#e4524c" stroke="#c03a36" stroke-width="0.3"/>
<circle cx="587.3" cy="358.5" r="0.7" fill="#fff" opacity="0.7"/>
<circle cx="580.8" cy="365.2" r="1.7" fill="#e4524c" stroke="#c03a36" stroke-width="0.3"/>
<circle cx="580.2" cy="364.5" r="0.7" fill="#fff" opacity="0.7"/>
<circle cx="568.9" cy="366.3" r="1.7" fill="#e4524c" stroke="#c03a36" stroke-width="0.3"/>
<circle cx="568.3" cy="365.6" r="0.7" fill="#fff" opacity="0.7"/>
<circle cx="562" cy="365.8" r="1.7" fill="#e4524c" stroke="#c03a36" stroke-width="0.3"/>
<circle cx="561.4" cy="365.1" r="0.7" fill="#fff" opacity="0.7"/>
<circle cx="568.5" cy="370.6" r="1.7" fill="#e4524c" stroke="#c03a36" stroke-width="0.3"/>
<circle cx="567.9" cy="369.9" r="0.7" fill="#fff" opacity="0.7"/>
<circle cx="557.1" cy="373.9" r="1.7" fill="#e4524c" stroke="#c03a36" stroke-width="0.3"/>
<circle cx="556.5" cy="373.2" r="0.7" fill="#fff" opacity="0.7"/>
<circle cx="554.4" cy="362.8" r="1.7" fill="#e4524c" stroke="#c03a36" stroke-width="0.3"/>
<circle cx="553.8" cy="362.1" r="0.7" fill="#fff" opacity="0.7"/>
<circle cx="550.4" cy="370.9" r="1.7" fill="#e4524c" stroke="#c03a36" stroke-width="0.3"/>
<circle cx="549.8" cy="370.2" r="0.7" fill="#fff" opacity="0.7"/>
<circle cx="631.4" cy="289.2" r="1.7" fill="#5d9ad6"/>
<circle cx="631.4" cy="303.6" r="1.7" fill="#e4524c"/>
<text x="636.2" y="292.3" font-size="8.7" text-anchor="start" font-weight="normal" fill="#231f20" stroke="#231f20" stroke-width="0.22" >VO<tspan font-size="6.26" baseline-shift="-1.57">2</tspan> (M)</text>
<text x="636.2" y="306.7" font-size="8.7" text-anchor="start" font-weight="normal" fill="#231f20" stroke="#231f20" stroke-width="0.22" >VO<tspan font-size="6.26" baseline-shift="-1.57">2</tspan> (R)</text>
<rect x="15" y="460" width="201.8" height="144" fill="#3a3938"/>
<line x1="15" y1="460.3" x2="216.8" y2="460.3" stroke="#283044" stroke-width="0.9"/>
<line x1="15.3" y1="460" x2="15.3" y2="604" stroke="#3a4a70" stroke-width="0.9"/>
<line x1="216.5" y1="460" x2="216.5" y2="604" stroke="#5a6a8a" stroke-width="0.9"/>
<line x1="15" y1="603.6" x2="216.8" y2="603.6" stroke="#6a7895" stroke-width="0.9"/>
<defs><linearGradient id="fsh" x1="0" x2="1" y1="0" y2="1"><stop offset="0" stop-color="#fff" stop-opacity="0.07"/><stop offset="0.5" stop-color="#fff" stop-opacity="0"/><stop offset="1" stop-color="#000" stop-opacity="0.06"/></linearGradient></defs>
<text x="112.9" y="476.3" font-size="10.3" text-anchor="middle" font-weight="normal" fill="#f4f4f4" stroke="#f4f4f4" stroke-width="0.22" >VO<tspan font-size="7.42" baseline-shift="-1.85">2</tspan> (M)</text>
<text x="112.9" y="542.3" font-size="10.3" text-anchor="middle" font-weight="normal" fill="#f4f4f4" stroke="#f4f4f4" stroke-width="0.22" >VO<tspan font-size="7.42" baseline-shift="-1.85">2</tspan> (R)</text>
<rect x="20.6" y="485.6" width="31.4" height="30.9" fill="#7a4a5e"/>
<rect x="20.6" y="485.6" width="31.4" height="30.9" fill="url(#fsh)"/>
<line x1="20.6" y1="516.2" x2="52" y2="516.2" stroke="#8fb4d8" stroke-width="0.6" opacity="0.8"/>
<line x1="20.6" y1="485.6" x2="20.6" y2="516.5" stroke="#2a2a3a" stroke-width="0.5" opacity="0.6"/>
<rect x="52" y="485.6" width="31.4" height="30.9" fill="#7b4f86"/>
<rect x="52" y="485.6" width="31.4" height="30.9" fill="url(#fsh)"/>
<line x1="52" y1="516.2" x2="83.4" y2="516.2" stroke="#8fb4d8" stroke-width="0.6" opacity="0.8"/>
<line x1="52" y1="485.6" x2="52" y2="516.5" stroke="#2a2a3a" stroke-width="0.5" opacity="0.6"/>
<rect x="83.4" y="485.6" width="31" height="30.9" fill="#3c7ea2"/>
<rect x="83.4" y="485.6" width="31" height="30.9" fill="url(#fsh)"/>
<line x1="83.4" y1="516.2" x2="114.4" y2="516.2" stroke="#8fb4d8" stroke-width="0.6" opacity="0.8"/>
<line x1="83.4" y1="485.6" x2="83.4" y2="516.5" stroke="#2a2a3a" stroke-width="0.5" opacity="0.6"/>
<rect x="114.4" y="485.6" width="31.9" height="30.9" fill="#3e9a9c"/>
<rect x="114.4" y="485.6" width="31.9" height="30.9" fill="url(#fsh)"/>
<line x1="114.4" y1="516.2" x2="146.3" y2="516.2" stroke="#8fb4d8" stroke-width="0.6" opacity="0.8"/>
<line x1="114.4" y1="485.6" x2="114.4" y2="516.5" stroke="#2a2a3a" stroke-width="0.5" opacity="0.6"/>
<rect x="146.3" y="485.6" width="32.2" height="30.9" fill="#c2b044"/>
<rect x="146.3" y="485.6" width="32.2" height="30.9" fill="url(#fsh)"/>
<line x1="146.3" y1="516.2" x2="178.5" y2="516.2" stroke="#8fb4d8" stroke-width="0.6" opacity="0.8"/>
<line x1="146.3" y1="485.6" x2="146.3" y2="516.5" stroke="#2a2a3a" stroke-width="0.5" opacity="0.6"/>
<rect x="178.5" y="485.6" width="32.4" height="30.9" fill="#d8913f"/>
<rect x="178.5" y="485.6" width="32.4" height="30.9" fill="url(#fsh)"/>
<line x1="178.5" y1="516.2" x2="210.9" y2="516.2" stroke="#8fb4d8" stroke-width="0.6" opacity="0.8"/>
<line x1="178.5" y1="485.6" x2="178.5" y2="516.5" stroke="#2a2a3a" stroke-width="0.5" opacity="0.6"/>
<rect x="20.6" y="553.1" width="31.4" height="30.5" fill="#574a50"/>
<rect x="20.6" y="553.1" width="31.4" height="30.5" fill="url(#fsh)"/>
<line x1="20.6" y1="583.3" x2="52" y2="583.3" stroke="#8fb4d8" stroke-width="0.6" opacity="0.8"/>
<line x1="20.6" y1="553.1" x2="20.6" y2="583.6" stroke="#2a2a3a" stroke-width="0.5" opacity="0.6"/>
<rect x="52" y="553.1" width="31.4" height="30.5" fill="#6a5a82"/>
<rect x="52" y="553.1" width="31.4" height="30.5" fill="url(#fsh)"/>
<line x1="52" y1="583.3" x2="83.4" y2="583.3" stroke="#8fb4d8" stroke-width="0.6" opacity="0.8"/>
<line x1="52" y1="553.1" x2="52" y2="583.6" stroke="#2a2a3a" stroke-width="0.5" opacity="0.6"/>
<rect x="83.4" y="553.1" width="31" height="30.5" fill="#3c5c98"/>
<rect x="83.4" y="553.1" width="31" height="30.5" fill="url(#fsh)"/>
<line x1="83.4" y1="583.3" x2="114.4" y2="583.3" stroke="#8fb4d8" stroke-width="0.6" opacity="0.8"/>
<line x1="83.4" y1="553.1" x2="83.4" y2="583.6" stroke="#2a2a3a" stroke-width="0.5" opacity="0.6"/>
<rect x="114.4" y="553.1" width="31.9" height="30.5" fill="#3a8aa2"/>
<rect x="114.4" y="553.1" width="31.9" height="30.5" fill="url(#fsh)"/>
<line x1="114.4" y1="583.3" x2="146.3" y2="583.3" stroke="#8fb4d8" stroke-width="0.6" opacity="0.8"/>
<line x1="114.4" y1="553.1" x2="114.4" y2="583.6" stroke="#2a2a3a" stroke-width="0.5" opacity="0.6"/>
<rect x="146.3" y="553.1" width="32.2" height="30.5" fill="#8aae40"/>
<rect x="146.3" y="553.1" width="32.2" height="30.5" fill="url(#fsh)"/>
<line x1="146.3" y1="583.3" x2="178.5" y2="583.3" stroke="#8fb4d8" stroke-width="0.6" opacity="0.8"/>
<line x1="146.3" y1="553.1" x2="146.3" y2="583.6" stroke="#2a2a3a" stroke-width="0.5" opacity="0.6"/>
<rect x="178.5" y="553.1" width="32.4" height="30.5" fill="#c89c48"/>
<rect x="178.5" y="553.1" width="32.4" height="30.5" fill="url(#fsh)"/>
<line x1="178.5" y1="583.3" x2="210.9" y2="583.3" stroke="#8fb4d8" stroke-width="0.6" opacity="0.8"/>
<line x1="178.5" y1="553.1" x2="178.5" y2="583.6" stroke="#2a2a3a" stroke-width="0.5" opacity="0.6"/>
<defs><filter id="fstreak" x="0" y="0" width="100%" height="100%" color-interpolation-filters="sRGB"><feTurbulence type="fractalNoise" baseFrequency="0.05 0.5" numOctaves="2" seed="9"/><feColorMatrix type="matrix" values="0 0 0 0 1  0 0 0 0 1  0 0 0 0 1  1.4 0 0 0 -0.55"/></filter></defs>
<rect x="20.6" y="485.6" width="190.3" height="30.9" fill="#fff" filter="url(#fstreak)" opacity="0.1"/>
<rect x="20.6" y="553.1" width="190.3" height="30.5" fill="#fff" filter="url(#fstreak)" opacity="0.1"/>
<text x="1.1" y="459.3" font-size="14.5" text-anchor="start" font-weight="bold" fill="#000" >f</text>
<path d="M319.26,588.7 A17.64,17.64 0 0 1 354.54,588.7" fill="none" stroke="#adadad" stroke-width="0.6"/>
<path d="M301.62,588.7 A35.28,35.28 0 0 1 372.18,588.7" fill="none" stroke="#adadad" stroke-width="0.6"/>
<path d="M283.98,588.7 A52.92,52.92 0 0 1 389.82,588.7" fill="none" stroke="#adadad" stroke-width="0.6"/>
<path d="M266.34,588.7 A70.56,70.56 0 0 1 407.46,588.7" fill="none" stroke="#adadad" stroke-width="0.6"/>
<path d="M248.7,588.7 A88.2,88.2 0 0 1 425.1,588.7" fill="none" stroke="#a5a5a5" stroke-width="0.6"/>
<line x1="336.9" y1="588.7" x2="260.52" y2="544.6" stroke="#adadad" stroke-width="0.6"/>
<line x1="336.9" y1="588.7" x2="292.8" y2="512.32" stroke="#adadad" stroke-width="0.6"/>
<line x1="336.9" y1="588.7" x2="381" y2="512.32" stroke="#adadad" stroke-width="0.6"/>
<line x1="336.9" y1="588.7" x2="413.28" y2="544.6" stroke="#adadad" stroke-width="0.6"/>
<line x1="336.9" y1="588.7" x2="336.9" y2="500.5" stroke="#d6d6d6" stroke-width="1.1"/>
<line x1="248.7" y1="588.7" x2="425.1" y2="588.7" stroke="#a5a5a5" stroke-width="0.7"/>
<path d="M241.2,507.4 Q336.9,428 431.6,507.4" fill="none" stroke="#222" stroke-width="0.65" stroke-dasharray="0.8 0.9"/>
<line x1="241.2" y1="507.4" x2="336.9" y2="588.7" stroke="#333" stroke-width="0.6" stroke-dasharray="1.2 0.8"/>
<line x1="431.6" y1="507.4" x2="336.9" y2="588.7" stroke="#333" stroke-width="0.6" stroke-dasharray="1.2 0.8"/>
<line x1="336.9" y1="468" x2="336.9" y2="488" stroke="#888" stroke-width="0.6" stroke-dasharray="0.8 1"/>
<circle cx="241.2" cy="507.4" r="3" fill="#8ab9e6"/>
<circle cx="431.6" cy="507.4" r="3" fill="#8ab9e6"/>
<line x1="323" y1="468" x2="351" y2="468" stroke="#111" stroke-width="0.9"/>
<path d="M320.6,468 L324.6,466.1 L324.6,469.9 Z" fill="#111"/>
<path d="M353.2,468 L349.2,466.1 L349.2,469.9 Z" fill="#111"/>
<circle cx="336.9" cy="468" r="3" fill="#8ab9e6"/>
<text x="335" y="459.2" font-size="10" text-anchor="middle" font-weight="normal" fill="#231f20" stroke="#231f20" stroke-width="0.22" >Concealed viewing angle</text>
<text x="337.6" y="496.2" font-size="8.7" text-anchor="middle" font-weight="normal" fill="#231f20" stroke="#231f20" stroke-width="0.22" >0°</text>
<text x="284.5" y="508.6" font-size="8.7" text-anchor="middle" font-weight="normal" fill="#231f20" stroke="#231f20" stroke-width="0.22" >-30°</text>
<text x="389.6" y="508.6" font-size="8.7" text-anchor="middle" font-weight="normal" fill="#231f20" stroke="#231f20" stroke-width="0.22" >30°</text>
<text x="251" y="542" font-size="8.7" text-anchor="middle" font-weight="normal" fill="#231f20" stroke="#231f20" stroke-width="0.22" >-60°</text>
<text x="423" y="542" font-size="8.7" text-anchor="middle" font-weight="normal" fill="#231f20" stroke="#231f20" stroke-width="0.22" >60°</text>
<text x="237.4" y="592.2" font-size="8.7" text-anchor="middle" font-weight="normal" fill="#231f20" stroke="#231f20" stroke-width="0.22" >-90°</text>
<text x="435.4" y="592.2" font-size="8.7" text-anchor="middle" font-weight="normal" fill="#231f20" stroke="#231f20" stroke-width="0.22" >90°</text>
<text x="336.9" y="601.5" font-size="8.7" text-anchor="middle" font-weight="normal" fill="#231f20" stroke="#231f20" stroke-width="0.22" >0</text>
<text x="354.54" y="601.5" font-size="8.7" text-anchor="middle" font-weight="normal" fill="#231f20" stroke="#231f20" stroke-width="0.22" >20</text>
<text x="372.18" y="601.5" font-size="8.7" text-anchor="middle" font-weight="normal" fill="#231f20" stroke="#231f20" stroke-width="0.22" >40</text>
<text x="389.82" y="601.5" font-size="8.7" text-anchor="middle" font-weight="normal" fill="#231f20" stroke="#231f20" stroke-width="0.22" >60</text>
<text x="407.46" y="601.5" font-size="8.7" text-anchor="middle" font-weight="normal" fill="#231f20" stroke="#231f20" stroke-width="0.22" >80</text>
<text x="425.1" y="601.5" font-size="8.7" text-anchor="middle" font-weight="normal" fill="#231f20" stroke="#231f20" stroke-width="0.22" >100</text>
<text x="344.8" y="619.3" font-size="8.7" text-anchor="middle" font-weight="normal" fill="#231f20" stroke="#231f20" stroke-width="0.22" >Color difference (Δ<tspan font-style="italic">E</tspan>)</text>
<path d="M336.7,588.2C337.97,587.28 341.83,584.42 344.3,582.7C346.77,580.98 348.5,579.22 351.5,577.9C354.5,576.58 357.12,575.68 362.3,574.8C367.48,573.92 376.83,572.77 382.6,572.6C388.37,572.43 391.92,573.23 396.9,573.8C401.88,574.37 409.9,575.63 412.5,576" fill="none" stroke="#f59a9a" stroke-width="1"/>
<path d="M337.1,588.2C335.83,587.28 331.97,584.42 329.5,582.7C327.03,580.98 325.3,579.22 322.3,577.9C319.3,576.58 316.68,575.68 311.5,574.8C306.32,573.92 296.97,572.77 291.2,572.6C285.43,572.43 281.88,573.23 276.9,573.8C271.92,574.37 263.9,575.63 261.3,576" fill="none" stroke="#f59a9a" stroke-width="1"/>
<path d="M336.7,588.2C337.97,587.48 341.43,585.22 344.3,583.9C347.17,582.58 349.92,581.22 353.9,580.3C357.88,579.38 362.62,578.83 368.2,578.4C373.78,577.97 380.93,577.87 387.4,577.7C393.87,577.53 403.73,577.45 407,577.4" fill="none" stroke="#4a9ee0" stroke-width="1.3"/>
<path d="M337.1,588.2C335.83,587.48 332.37,585.22 329.5,583.9C326.63,582.58 323.88,581.22 319.9,580.3C315.92,579.38 311.18,578.83 305.6,578.4C300.02,577.97 292.87,577.87 286.4,577.7C279.93,577.53 270.07,577.45 266.8,577.4" fill="none" stroke="#4a9ee0" stroke-width="1.3"/>
<circle cx="351.5" cy="577.9" r="0.9" fill="#f59a9a"/>
<circle cx="362.3" cy="574.8" r="0.9" fill="#f59a9a"/>
<circle cx="382.6" cy="572.6" r="0.9" fill="#f59a9a"/>
<circle cx="396.9" cy="573.8" r="0.9" fill="#f59a9a"/>
<circle cx="412.5" cy="576" r="0.9" fill="#f59a9a"/>
<circle cx="322.3" cy="577.9" r="0.9" fill="#f59a9a"/>
<circle cx="311.5" cy="574.8" r="0.9" fill="#f59a9a"/>
<circle cx="291.2" cy="572.6" r="0.9" fill="#f59a9a"/>
<circle cx="276.9" cy="573.8" r="0.9" fill="#f59a9a"/>
<circle cx="261.3" cy="576" r="0.9" fill="#f59a9a"/>
<circle cx="353.9" cy="580.3" r="0.9" fill="#4a9ee0"/>
<circle cx="368.2" cy="578.4" r="0.9" fill="#4a9ee0"/>
<circle cx="387.4" cy="577.7" r="0.9" fill="#4a9ee0"/>
<circle cx="407" cy="577.4" r="0.9" fill="#4a9ee0"/>
<circle cx="319.9" cy="580.3" r="0.9" fill="#4a9ee0"/>
<circle cx="305.6" cy="578.4" r="0.9" fill="#4a9ee0"/>
<circle cx="286.4" cy="577.7" r="0.9" fill="#4a9ee0"/>
<circle cx="266.8" cy="577.4" r="0.9" fill="#4a9ee0"/>
<line x1="341.5" y1="538.9" x2="362.3" y2="538.9" stroke="#4a9ee0" stroke-width="1.4"/>
<line x1="341.5" y1="552.3" x2="362.3" y2="552.3" stroke="#f59a9a" stroke-width="1"/>
<circle cx="351.9" cy="538.9" r="1" fill="#3a8ed0"/><circle cx="351.9" cy="552.3" r="1" fill="#f08888"/>
<text x="362.8" y="542" font-size="8.7" text-anchor="start" font-weight="normal" fill="#231f20" stroke="#231f20" stroke-width="0.22" >VO<tspan font-size="6.26" baseline-shift="-1.57">2</tspan> (M)</text>
<text x="362.8" y="555.4" font-size="8.7" text-anchor="start" font-weight="normal" fill="#231f20" stroke="#231f20" stroke-width="0.22" >VO<tspan font-size="6.26" baseline-shift="-1.57">2</tspan> (R)</text>
<text x="238.6" y="459.8" font-size="14.5" text-anchor="start" font-weight="bold" fill="#000" >g</text>
<defs><radialGradient id="hbg" gradientUnits="userSpaceOnUse" cx="0" cy="0" r="1" gradientTransform="translate(548 562) rotate(-40) scale(125 58)"><stop offset="0" stop-color="#f6fafc" stop-opacity="1"/><stop offset="0.5" stop-color="#eef5f8" stop-opacity="0.8"/><stop offset="1" stop-color="#e8f1f6" stop-opacity="0"/></radialGradient><linearGradient id="hbg2" x1="0" x2="1" y1="0" y2="0"><stop offset="0" stop-color="#d3e5ee"/><stop offset="0.5" stop-color="#dbe9f1"/><stop offset="1" stop-color="#cfe2ec"/></linearGradient><linearGradient id="hin" x1="0" x2="1" y1="0" y2="0"><stop offset="0" stop-color="#f2f7fa" stop-opacity="0.8"/><stop offset="1" stop-color="#eef5f8" stop-opacity="0.25"/></linearGradient></defs>
<rect x="500.5" y="452.5" width="178" height="142" fill="url(#hbg2)"/>
<rect x="500.5" y="452.5" width="178" height="142" fill="url(#hbg)"/>
<rect x="601.7" y="452.6" width="76.8" height="61.8" fill="url(#hin)"/>
<rect x="601.7" y="452.6" width="76.8" height="61.8" fill="#fff" opacity="0.25"/>
<rect x="500.5" y="452.5" width="178" height="142" fill="none" stroke="#777" stroke-width="0.7"/>
<line x1="500.5" y1="452.5" x2="500.5" y2="594.5" stroke="#231f20" stroke-width="0.8"/>
<line x1="500.5" y1="594.5" x2="678.5" y2="594.5" stroke="#231f20" stroke-width="0.8"/>
<line x1="500.5" y1="594.5" x2="500.5" y2="596.9" stroke="#231f20" stroke-width="0.7"/>
<text x="500.5" y="610" font-size="8.7" text-anchor="middle" font-weight="normal" fill="#231f20" stroke="#231f20" stroke-width="0.22" >300</text>
<line x1="522.75" y1="594.5" x2="522.75" y2="596.9" stroke="#231f20" stroke-width="0.7"/>
<text x="522.75" y="610" font-size="8.7" text-anchor="middle" font-weight="normal" fill="#231f20" stroke="#231f20" stroke-width="0.22" >310</text>
<line x1="545" y1="594.5" x2="545" y2="596.9" stroke="#231f20" stroke-width="0.7"/>
<text x="545" y="610" font-size="8.7" text-anchor="middle" font-weight="normal" fill="#231f20" stroke="#231f20" stroke-width="0.22" >320</text>
<line x1="567.25" y1="594.5" x2="567.25" y2="596.9" stroke="#231f20" stroke-width="0.7"/>
<text x="567.25" y="610" font-size="8.7" text-anchor="middle" font-weight="normal" fill="#231f20" stroke="#231f20" stroke-width="0.22" >330</text>
<line x1="589.5" y1="594.5" x2="589.5" y2="596.9" stroke="#231f20" stroke-width="0.7"/>
<text x="589.5" y="610" font-size="8.7" text-anchor="middle" font-weight="normal" fill="#231f20" stroke="#231f20" stroke-width="0.22" >340</text>
<line x1="611.75" y1="594.5" x2="611.75" y2="596.9" stroke="#231f20" stroke-width="0.7"/>
<text x="611.75" y="610" font-size="8.7" text-anchor="middle" font-weight="normal" fill="#231f20" stroke="#231f20" stroke-width="0.22" >350</text>
<line x1="634" y1="594.5" x2="634" y2="596.9" stroke="#231f20" stroke-width="0.7"/>
<text x="634" y="610" font-size="8.7" text-anchor="middle" font-weight="normal" fill="#231f20" stroke="#231f20" stroke-width="0.22" >360</text>
<line x1="656.25" y1="594.5" x2="656.25" y2="596.9" stroke="#231f20" stroke-width="0.7"/>
<text x="656.25" y="610" font-size="8.7" text-anchor="middle" font-weight="normal" fill="#231f20" stroke="#231f20" stroke-width="0.22" >370</text>
<line x1="678.5" y1="594.5" x2="678.5" y2="596.9" stroke="#231f20" stroke-width="0.7"/>
<text x="678.5" y="610" font-size="8.7" text-anchor="middle" font-weight="normal" fill="#231f20" stroke="#231f20" stroke-width="0.22" >380</text>
<line x1="499.2" y1="587.11" x2="500.5" y2="587.11" stroke="#231f20" stroke-width="0.6"/>
<line x1="499.2" y1="579.8" x2="500.5" y2="579.8" stroke="#231f20" stroke-width="0.6"/>
<line x1="499.2" y1="574.61" x2="500.5" y2="574.61" stroke="#231f20" stroke-width="0.6"/>
<line x1="499.2" y1="570.59" x2="500.5" y2="570.59" stroke="#231f20" stroke-width="0.6"/>
<line x1="499.2" y1="567.31" x2="500.5" y2="567.31" stroke="#231f20" stroke-width="0.6"/>
<line x1="499.2" y1="564.53" x2="500.5" y2="564.53" stroke="#231f20" stroke-width="0.6"/>
<line x1="499.2" y1="562.12" x2="500.5" y2="562.12" stroke="#231f20" stroke-width="0.6"/>
<line x1="499.2" y1="560" x2="500.5" y2="560" stroke="#231f20" stroke-width="0.6"/>
<line x1="498.1" y1="558.1" x2="500.5" y2="558.1" stroke="#231f20" stroke-width="0.6"/>
<line x1="499.2" y1="545.61" x2="500.5" y2="545.61" stroke="#231f20" stroke-width="0.6"/>
<line x1="499.2" y1="538.3" x2="500.5" y2="538.3" stroke="#231f20" stroke-width="0.6"/>
<line x1="499.2" y1="533.11" x2="500.5" y2="533.11" stroke="#231f20" stroke-width="0.6"/>
<line x1="499.2" y1="529.09" x2="500.5" y2="529.09" stroke="#231f20" stroke-width="0.6"/>
<line x1="499.2" y1="525.81" x2="500.5" y2="525.81" stroke="#231f20" stroke-width="0.6"/>
<line x1="499.2" y1="523.03" x2="500.5" y2="523.03" stroke="#231f20" stroke-width="0.6"/>
<line x1="499.2" y1="520.62" x2="500.5" y2="520.62" stroke="#231f20" stroke-width="0.6"/>
<line x1="499.2" y1="518.5" x2="500.5" y2="518.5" stroke="#231f20" stroke-width="0.6"/>
<line x1="498.1" y1="516.6" x2="500.5" y2="516.6" stroke="#231f20" stroke-width="0.6"/>
<line x1="499.2" y1="504.11" x2="500.5" y2="504.11" stroke="#231f20" stroke-width="0.6"/>
<line x1="499.2" y1="496.8" x2="500.5" y2="496.8" stroke="#231f20" stroke-width="0.6"/>
<line x1="499.2" y1="491.61" x2="500.5" y2="491.61" stroke="#231f20" stroke-width="0.6"/>
<line x1="499.2" y1="487.59" x2="500.5" y2="487.59" stroke="#231f20" stroke-width="0.6"/>
<line x1="499.2" y1="484.31" x2="500.5" y2="484.31" stroke="#231f20" stroke-width="0.6"/>
<line x1="499.2" y1="481.53" x2="500.5" y2="481.53" stroke="#231f20" stroke-width="0.6"/>
<line x1="499.2" y1="479.12" x2="500.5" y2="479.12" stroke="#231f20" stroke-width="0.6"/>
<line x1="499.2" y1="477" x2="500.5" y2="477" stroke="#231f20" stroke-width="0.6"/>
<line x1="498.1" y1="475.1" x2="500.5" y2="475.1" stroke="#231f20" stroke-width="0.6"/>
<line x1="499.2" y1="462.61" x2="500.5" y2="462.61" stroke="#231f20" stroke-width="0.6"/>
<line x1="499.2" y1="455.3" x2="500.5" y2="455.3" stroke="#231f20" stroke-width="0.6"/>
<text x="494.6" y="561.2" font-size="8.7" text-anchor="end" font-weight="normal" fill="#231f20" stroke="#231f20" stroke-width="0.22" >10<tspan font-size="6.2" dy="-3.6">3</tspan></text>
<text x="494.6" y="519.7" font-size="8.7" text-anchor="end" font-weight="normal" fill="#231f20" stroke="#231f20" stroke-width="0.22" >10<tspan font-size="6.2" dy="-3.6">4</tspan></text>
<text x="494.6" y="478.2" font-size="8.7" text-anchor="end" font-weight="normal" fill="#231f20" stroke="#231f20" stroke-width="0.22" >10<tspan font-size="6.2" dy="-3.6">5</tspan></text>
<text x="0" y="0" font-size="8.7" text-anchor="middle" font-weight="normal" fill="#231f20" stroke="#231f20" stroke-width="0.22" transform="translate(474,519) rotate(-90)">Resistance (Ohm)</text>
<text x="588.8" y="624.8" font-size="8.7" text-anchor="middle" font-weight="normal" fill="#231f20" stroke="#231f20" stroke-width="0.22" >Temperature (K)</text>
<path d="M500.4,463C504.62,463.98 519.1,467.37 525.7,468.9C532.3,470.43 535.22,471.25 540,472.2C544.78,473.15 549.62,473.52 554.4,474.6C559.18,475.68 564.72,477.42 568.7,478.7C572.68,479.98 575.9,481.1 578.3,482.3C580.7,483.5 581.7,483.32 583.1,485.9C584.5,488.48 585.72,493.82 586.7,497.8C587.68,501.78 588.22,505.8 589,509.8C589.78,513.8 590.6,517.42 591.4,521.8C592.2,526.18 593,531.32 593.8,536.1C594.6,540.88 595.4,546.52 596.2,550.5C597,554.48 597.6,557.22 598.6,560C599.6,562.78 600.8,565.2 602.2,567.2C603.6,569.2 604.6,570.48 607,572C609.4,573.52 612.62,575.1 616.6,576.3C620.58,577.5 627,578.52 630.9,579.2C634.8,579.88 634.53,579.9 640,580.4C645.47,580.9 657.28,581.78 663.7,582.2C670.12,582.62 676.03,582.78 678.5,582.9" fill="none" stroke="#f08a8a" stroke-width="1"/>
<circle cx="500.5" cy="463.02" r="1.35" fill="#fff" fill-opacity="0.5" stroke="#f08a8a" stroke-width="0.7"/>
<circle cx="502.73" cy="463.54" r="1.35" fill="#fff" fill-opacity="0.5" stroke="#f08a8a" stroke-width="0.7"/>
<circle cx="504.95" cy="464.06" r="1.35" fill="#fff" fill-opacity="0.5" stroke="#f08a8a" stroke-width="0.7"/>
<circle cx="507.18" cy="464.58" r="1.35" fill="#fff" fill-opacity="0.5" stroke="#f08a8a" stroke-width="0.7"/>
<circle cx="509.4" cy="465.1" r="1.35" fill="#fff" fill-opacity="0.5" stroke="#f08a8a" stroke-width="0.7"/>
<circle cx="511.62" cy="465.62" r="1.35" fill="#fff" fill-opacity="0.5" stroke="#f08a8a" stroke-width="0.7"/>
<circle cx="513.85" cy="466.14" r="1.35" fill="#fff" fill-opacity="0.5" stroke="#f08a8a" stroke-width="0.7"/>
<circle cx="516.08" cy="466.66" r="1.35" fill="#fff" fill-opacity="0.5" stroke="#f08a8a" stroke-width="0.7"/>
<circle cx="518.3" cy="467.17" r="1.35" fill="#fff" fill-opacity="0.5" stroke="#f08a8a" stroke-width="0.7"/>
<circle cx="520.52" cy="467.69" r="1.35" fill="#fff" fill-opacity="0.5" stroke="#f08a8a" stroke-width="0.7"/>
<circle cx="522.75" cy="468.21" r="1.35" fill="#fff" fill-opacity="0.5" stroke="#f08a8a" stroke-width="0.7"/>
<circle cx="524.98" cy="468.73" r="1.35" fill="#fff" fill-opacity="0.5" stroke="#f08a8a" stroke-width="0.7"/>
<circle cx="527.2" cy="469.25" r="1.35" fill="#fff" fill-opacity="0.5" stroke="#f08a8a" stroke-width="0.7"/>
<circle cx="529.42" cy="469.76" r="1.35" fill="#fff" fill-opacity="0.5" stroke="#f08a8a" stroke-width="0.7"/>
<circle cx="531.65" cy="470.27" r="1.35" fill="#fff" fill-opacity="0.5" stroke="#f08a8a" stroke-width="0.7"/>
<circle cx="533.88" cy="470.79" r="1.35" fill="#fff" fill-opacity="0.5" stroke="#f08a8a" stroke-width="0.7"/>
<circle cx="536.1" cy="471.3" r="1.35" fill="#fff" fill-opacity="0.5" stroke="#f08a8a" stroke-width="0.7"/>
<circle cx="538.33" cy="471.81" r="1.35" fill="#fff" fill-opacity="0.5" stroke="#f08a8a" stroke-width="0.7"/>
<circle cx="540.55" cy="472.29" r="1.35" fill="#fff" fill-opacity="0.5" stroke="#f08a8a" stroke-width="0.7"/>
<circle cx="542.77" cy="472.66" r="1.35" fill="#fff" fill-opacity="0.5" stroke="#f08a8a" stroke-width="0.7"/>
<circle cx="545" cy="473.03" r="1.35" fill="#fff" fill-opacity="0.5" stroke="#f08a8a" stroke-width="0.7"/>
<circle cx="547.23" cy="473.4" r="1.35" fill="#fff" fill-opacity="0.5" stroke="#f08a8a" stroke-width="0.7"/>
<circle cx="549.45" cy="473.78" r="1.35" fill="#fff" fill-opacity="0.5" stroke="#f08a8a" stroke-width="0.7"/>
<circle cx="551.67" cy="474.15" r="1.35" fill="#fff" fill-opacity="0.5" stroke="#f08a8a" stroke-width="0.7"/>
<circle cx="553.9" cy="474.52" r="1.35" fill="#fff" fill-opacity="0.5" stroke="#f08a8a" stroke-width="0.7"/>
<circle cx="556.12" cy="475.09" r="1.35" fill="#fff" fill-opacity="0.5" stroke="#f08a8a" stroke-width="0.7"/>
<circle cx="558.35" cy="475.73" r="1.35" fill="#fff" fill-opacity="0.5" stroke="#f08a8a" stroke-width="0.7"/>
<circle cx="560.58" cy="476.37" r="1.35" fill="#fff" fill-opacity="0.5" stroke="#f08a8a" stroke-width="0.7"/>
<circle cx="562.8" cy="477.01" r="1.35" fill="#fff" fill-opacity="0.5" stroke="#f08a8a" stroke-width="0.7"/>
<circle cx="565.02" cy="477.65" r="1.35" fill="#fff" fill-opacity="0.5" stroke="#f08a8a" stroke-width="0.7"/>
<circle cx="567.25" cy="478.28" r="1.35" fill="#fff" fill-opacity="0.5" stroke="#f08a8a" stroke-width="0.7"/>
<circle cx="569.48" cy="478.99" r="1.35" fill="#fff" fill-opacity="0.5" stroke="#f08a8a" stroke-width="0.7"/>
<circle cx="571.7" cy="479.82" r="1.35" fill="#fff" fill-opacity="0.5" stroke="#f08a8a" stroke-width="0.7"/>
<circle cx="573.92" cy="480.66" r="1.35" fill="#fff" fill-opacity="0.5" stroke="#f08a8a" stroke-width="0.7"/>
<circle cx="576.15" cy="481.49" r="1.35" fill="#fff" fill-opacity="0.5" stroke="#f08a8a" stroke-width="0.7"/>
<circle cx="578.38" cy="482.36" r="1.35" fill="#fff" fill-opacity="0.5" stroke="#f08a8a" stroke-width="0.7"/>
<circle cx="580.6" cy="484.03" r="1.35" fill="#fff" fill-opacity="0.5" stroke="#f08a8a" stroke-width="0.7"/>
<circle cx="582.83" cy="485.69" r="1.35" fill="#fff" fill-opacity="0.5" stroke="#f08a8a" stroke-width="0.7"/>
<circle cx="585.05" cy="492.35" r="1.35" fill="#fff" fill-opacity="0.5" stroke="#f08a8a" stroke-width="0.7"/>
<circle cx="587.27" cy="500.8" r="1.35" fill="#fff" fill-opacity="0.5" stroke="#f08a8a" stroke-width="0.7"/>
<circle cx="589.5" cy="512.3" r="1.35" fill="#fff" fill-opacity="0.5" stroke="#f08a8a" stroke-width="0.7"/>
<circle cx="591.73" cy="523.74" r="1.35" fill="#fff" fill-opacity="0.5" stroke="#f08a8a" stroke-width="0.7"/>
<circle cx="593.95" cy="537" r="1.35" fill="#fff" fill-opacity="0.5" stroke="#f08a8a" stroke-width="0.7"/>
<circle cx="596.17" cy="550.35" r="1.35" fill="#fff" fill-opacity="0.5" stroke="#f08a8a" stroke-width="0.7"/>
<circle cx="598.4" cy="559.21" r="1.35" fill="#fff" fill-opacity="0.5" stroke="#f08a8a" stroke-width="0.7"/>
<circle cx="600.62" cy="564.05" r="1.35" fill="#fff" fill-opacity="0.5" stroke="#f08a8a" stroke-width="0.7"/>
<circle cx="602.85" cy="567.85" r="1.35" fill="#fff" fill-opacity="0.5" stroke="#f08a8a" stroke-width="0.7"/>
<circle cx="605.08" cy="570.08" r="1.35" fill="#fff" fill-opacity="0.5" stroke="#f08a8a" stroke-width="0.7"/>
<circle cx="607.3" cy="572.13" r="1.35" fill="#fff" fill-opacity="0.5" stroke="#f08a8a" stroke-width="0.7"/>
<circle cx="609.52" cy="573.13" r="1.35" fill="#fff" fill-opacity="0.5" stroke="#f08a8a" stroke-width="0.7"/>
<circle cx="611.75" cy="574.13" r="1.35" fill="#fff" fill-opacity="0.5" stroke="#f08a8a" stroke-width="0.7"/>
<circle cx="613.98" cy="575.12" r="1.35" fill="#fff" fill-opacity="0.5" stroke="#f08a8a" stroke-width="0.7"/>
<circle cx="616.2" cy="576.12" r="1.35" fill="#fff" fill-opacity="0.5" stroke="#f08a8a" stroke-width="0.7"/>
<circle cx="618.42" cy="576.67" r="1.35" fill="#fff" fill-opacity="0.5" stroke="#f08a8a" stroke-width="0.7"/>
<circle cx="620.65" cy="577.12" r="1.35" fill="#fff" fill-opacity="0.5" stroke="#f08a8a" stroke-width="0.7"/>
<circle cx="622.88" cy="577.57" r="1.35" fill="#fff" fill-opacity="0.5" stroke="#f08a8a" stroke-width="0.7"/>
<circle cx="625.1" cy="578.02" r="1.35" fill="#fff" fill-opacity="0.5" stroke="#f08a8a" stroke-width="0.7"/>
<circle cx="627.33" cy="578.48" r="1.35" fill="#fff" fill-opacity="0.5" stroke="#f08a8a" stroke-width="0.7"/>
<circle cx="629.55" cy="578.93" r="1.35" fill="#fff" fill-opacity="0.5" stroke="#f08a8a" stroke-width="0.7"/>
<circle cx="631.77" cy="579.32" r="1.35" fill="#fff" fill-opacity="0.5" stroke="#f08a8a" stroke-width="0.7"/>
<circle cx="634" cy="579.61" r="1.35" fill="#fff" fill-opacity="0.5" stroke="#f08a8a" stroke-width="0.7"/>
<circle cx="636.23" cy="579.9" r="1.35" fill="#fff" fill-opacity="0.5" stroke="#f08a8a" stroke-width="0.7"/>
<circle cx="638.45" cy="580.2" r="1.35" fill="#fff" fill-opacity="0.5" stroke="#f08a8a" stroke-width="0.7"/>
<circle cx="640.67" cy="580.45" r="1.35" fill="#fff" fill-opacity="0.5" stroke="#f08a8a" stroke-width="0.7"/>
<circle cx="642.9" cy="580.62" r="1.35" fill="#fff" fill-opacity="0.5" stroke="#f08a8a" stroke-width="0.7"/>
<circle cx="645.12" cy="580.79" r="1.35" fill="#fff" fill-opacity="0.5" stroke="#f08a8a" stroke-width="0.7"/>
<circle cx="647.35" cy="580.96" r="1.35" fill="#fff" fill-opacity="0.5" stroke="#f08a8a" stroke-width="0.7"/>
<circle cx="649.58" cy="581.13" r="1.35" fill="#fff" fill-opacity="0.5" stroke="#f08a8a" stroke-width="0.7"/>
<circle cx="651.8" cy="581.3" r="1.35" fill="#fff" fill-opacity="0.5" stroke="#f08a8a" stroke-width="0.7"/>
<circle cx="654.02" cy="581.47" r="1.35" fill="#fff" fill-opacity="0.5" stroke="#f08a8a" stroke-width="0.7"/>
<circle cx="656.25" cy="581.63" r="1.35" fill="#fff" fill-opacity="0.5" stroke="#f08a8a" stroke-width="0.7"/>
<circle cx="658.48" cy="581.8" r="1.35" fill="#fff" fill-opacity="0.5" stroke="#f08a8a" stroke-width="0.7"/>
<circle cx="660.7" cy="581.97" r="1.35" fill="#fff" fill-opacity="0.5" stroke="#f08a8a" stroke-width="0.7"/>
<circle cx="662.92" cy="582.14" r="1.35" fill="#fff" fill-opacity="0.5" stroke="#f08a8a" stroke-width="0.7"/>
<circle cx="665.15" cy="582.27" r="1.35" fill="#fff" fill-opacity="0.5" stroke="#f08a8a" stroke-width="0.7"/>
<circle cx="667.38" cy="582.37" r="1.35" fill="#fff" fill-opacity="0.5" stroke="#f08a8a" stroke-width="0.7"/>
<circle cx="669.6" cy="582.48" r="1.35" fill="#fff" fill-opacity="0.5" stroke="#f08a8a" stroke-width="0.7"/>
<circle cx="671.83" cy="582.58" r="1.35" fill="#fff" fill-opacity="0.5" stroke="#f08a8a" stroke-width="0.7"/>
<circle cx="674.05" cy="582.69" r="1.35" fill="#fff" fill-opacity="0.5" stroke="#f08a8a" stroke-width="0.7"/>
<circle cx="676.27" cy="582.79" r="1.35" fill="#fff" fill-opacity="0.5" stroke="#f08a8a" stroke-width="0.7"/>
<circle cx="678.5" cy="582.9" r="1.35" fill="#fff" fill-opacity="0.5" stroke="#f08a8a" stroke-width="0.7"/>
<path d="M506.6,464.9C509.78,465.68 520.13,468.1 525.7,469.6C531.27,471.1 536.42,472.78 540,473.9C543.58,475.02 545,475.1 547.2,476.3C549.4,477.5 551.62,479.5 553.2,481.1C554.78,482.7 555.52,483.12 556.7,485.9C557.88,488.68 559.3,494.22 560.3,497.8C561.3,501.38 561.9,503.8 562.7,507.4C563.5,511 564.3,515.42 565.1,519.4C565.9,523.38 566.7,526.92 567.5,531.3C568.3,535.68 569.1,541.7 569.9,545.7C570.7,549.7 571.3,552.52 572.3,555.3C573.3,558.08 574.5,560.22 575.9,562.4C577.3,564.58 578.72,566.6 580.7,568.4C582.68,570.2 584.62,571.8 587.8,573.2C590.98,574.6 595,575.8 599.8,576.8C604.6,577.8 609.9,578.48 616.6,579.2C623.3,579.92 629.68,580.37 640,581.1C650.32,581.83 672.08,583.18 678.5,583.6" fill="none" stroke="#3d8fd8" stroke-width="1"/>
<circle cx="507.18" cy="465.04" r="1.35" fill="#fff" fill-opacity="0.5" stroke="#3d8fd8" stroke-width="0.7"/>
<circle cx="509.4" cy="465.59" r="1.35" fill="#fff" fill-opacity="0.5" stroke="#3d8fd8" stroke-width="0.7"/>
<circle cx="511.62" cy="466.14" r="1.35" fill="#fff" fill-opacity="0.5" stroke="#3d8fd8" stroke-width="0.7"/>
<circle cx="513.85" cy="466.68" r="1.35" fill="#fff" fill-opacity="0.5" stroke="#3d8fd8" stroke-width="0.7"/>
<circle cx="516.08" cy="467.23" r="1.35" fill="#fff" fill-opacity="0.5" stroke="#3d8fd8" stroke-width="0.7"/>
<circle cx="518.3" cy="467.78" r="1.35" fill="#fff" fill-opacity="0.5" stroke="#3d8fd8" stroke-width="0.7"/>
<circle cx="520.52" cy="468.33" r="1.35" fill="#fff" fill-opacity="0.5" stroke="#3d8fd8" stroke-width="0.7"/>
<circle cx="522.75" cy="468.87" r="1.35" fill="#fff" fill-opacity="0.5" stroke="#3d8fd8" stroke-width="0.7"/>
<circle cx="524.98" cy="469.42" r="1.35" fill="#fff" fill-opacity="0.5" stroke="#3d8fd8" stroke-width="0.7"/>
<circle cx="527.2" cy="470.05" r="1.35" fill="#fff" fill-opacity="0.5" stroke="#3d8fd8" stroke-width="0.7"/>
<circle cx="529.42" cy="470.72" r="1.35" fill="#fff" fill-opacity="0.5" stroke="#3d8fd8" stroke-width="0.7"/>
<circle cx="531.65" cy="471.39" r="1.35" fill="#fff" fill-opacity="0.5" stroke="#3d8fd8" stroke-width="0.7"/>
<circle cx="533.88" cy="472.06" r="1.35" fill="#fff" fill-opacity="0.5" stroke="#3d8fd8" stroke-width="0.7"/>
<circle cx="536.1" cy="472.73" r="1.35" fill="#fff" fill-opacity="0.5" stroke="#3d8fd8" stroke-width="0.7"/>
<circle cx="538.33" cy="473.4" r="1.35" fill="#fff" fill-opacity="0.5" stroke="#3d8fd8" stroke-width="0.7"/>
<circle cx="540.55" cy="474.08" r="1.35" fill="#fff" fill-opacity="0.5" stroke="#3d8fd8" stroke-width="0.7"/>
<circle cx="542.77" cy="474.82" r="1.35" fill="#fff" fill-opacity="0.5" stroke="#3d8fd8" stroke-width="0.7"/>
<circle cx="545" cy="475.57" r="1.35" fill="#fff" fill-opacity="0.5" stroke="#3d8fd8" stroke-width="0.7"/>
<circle cx="547.23" cy="476.32" r="1.35" fill="#fff" fill-opacity="0.5" stroke="#3d8fd8" stroke-width="0.7"/>
<circle cx="549.45" cy="478.1" r="1.35" fill="#fff" fill-opacity="0.5" stroke="#3d8fd8" stroke-width="0.7"/>
<circle cx="551.67" cy="479.88" r="1.35" fill="#fff" fill-opacity="0.5" stroke="#3d8fd8" stroke-width="0.7"/>
<circle cx="553.9" cy="482.06" r="1.35" fill="#fff" fill-opacity="0.5" stroke="#3d8fd8" stroke-width="0.7"/>
<circle cx="556.12" cy="485.11" r="1.35" fill="#fff" fill-opacity="0.5" stroke="#3d8fd8" stroke-width="0.7"/>
<circle cx="558.35" cy="491.35" r="1.35" fill="#fff" fill-opacity="0.5" stroke="#3d8fd8" stroke-width="0.7"/>
<circle cx="560.58" cy="498.9" r="1.35" fill="#fff" fill-opacity="0.5" stroke="#3d8fd8" stroke-width="0.7"/>
<circle cx="562.8" cy="507.9" r="1.35" fill="#fff" fill-opacity="0.5" stroke="#3d8fd8" stroke-width="0.7"/>
<circle cx="565.02" cy="519.02" r="1.35" fill="#fff" fill-opacity="0.5" stroke="#3d8fd8" stroke-width="0.7"/>
<circle cx="567.25" cy="530.06" r="1.35" fill="#fff" fill-opacity="0.5" stroke="#3d8fd8" stroke-width="0.7"/>
<circle cx="569.48" cy="543.15" r="1.35" fill="#fff" fill-opacity="0.5" stroke="#3d8fd8" stroke-width="0.7"/>
<circle cx="571.7" cy="552.9" r="1.35" fill="#fff" fill-opacity="0.5" stroke="#3d8fd8" stroke-width="0.7"/>
<circle cx="573.92" cy="558.5" r="1.35" fill="#fff" fill-opacity="0.5" stroke="#3d8fd8" stroke-width="0.7"/>
<circle cx="576.15" cy="562.71" r="1.35" fill="#fff" fill-opacity="0.5" stroke="#3d8fd8" stroke-width="0.7"/>
<circle cx="578.38" cy="565.49" r="1.35" fill="#fff" fill-opacity="0.5" stroke="#3d8fd8" stroke-width="0.7"/>
<circle cx="580.6" cy="568.27" r="1.35" fill="#fff" fill-opacity="0.5" stroke="#3d8fd8" stroke-width="0.7"/>
<circle cx="582.83" cy="569.84" r="1.35" fill="#fff" fill-opacity="0.5" stroke="#3d8fd8" stroke-width="0.7"/>
<circle cx="585.05" cy="571.34" r="1.35" fill="#fff" fill-opacity="0.5" stroke="#3d8fd8" stroke-width="0.7"/>
<circle cx="587.27" cy="572.85" r="1.35" fill="#fff" fill-opacity="0.5" stroke="#3d8fd8" stroke-width="0.7"/>
<circle cx="589.5" cy="573.71" r="1.35" fill="#fff" fill-opacity="0.5" stroke="#3d8fd8" stroke-width="0.7"/>
<circle cx="591.73" cy="574.38" r="1.35" fill="#fff" fill-opacity="0.5" stroke="#3d8fd8" stroke-width="0.7"/>
<circle cx="593.95" cy="575.05" r="1.35" fill="#fff" fill-opacity="0.5" stroke="#3d8fd8" stroke-width="0.7"/>
<circle cx="596.17" cy="575.71" r="1.35" fill="#fff" fill-opacity="0.5" stroke="#3d8fd8" stroke-width="0.7"/>
<circle cx="598.4" cy="576.38" r="1.35" fill="#fff" fill-opacity="0.5" stroke="#3d8fd8" stroke-width="0.7"/>
<circle cx="600.62" cy="576.92" r="1.35" fill="#fff" fill-opacity="0.5" stroke="#3d8fd8" stroke-width="0.7"/>
<circle cx="602.85" cy="577.24" r="1.35" fill="#fff" fill-opacity="0.5" stroke="#3d8fd8" stroke-width="0.7"/>
<circle cx="605.08" cy="577.55" r="1.35" fill="#fff" fill-opacity="0.5" stroke="#3d8fd8" stroke-width="0.7"/>
<circle cx="607.3" cy="577.87" r="1.35" fill="#fff" fill-opacity="0.5" stroke="#3d8fd8" stroke-width="0.7"/>
<circle cx="609.52" cy="578.19" r="1.35" fill="#fff" fill-opacity="0.5" stroke="#3d8fd8" stroke-width="0.7"/>
<circle cx="611.75" cy="578.51" r="1.35" fill="#fff" fill-opacity="0.5" stroke="#3d8fd8" stroke-width="0.7"/>
<circle cx="613.98" cy="578.83" r="1.35" fill="#fff" fill-opacity="0.5" stroke="#3d8fd8" stroke-width="0.7"/>
<circle cx="616.2" cy="579.14" r="1.35" fill="#fff" fill-opacity="0.5" stroke="#3d8fd8" stroke-width="0.7"/>
<circle cx="618.42" cy="579.35" r="1.35" fill="#fff" fill-opacity="0.5" stroke="#3d8fd8" stroke-width="0.7"/>
<circle cx="620.65" cy="579.53" r="1.35" fill="#fff" fill-opacity="0.5" stroke="#3d8fd8" stroke-width="0.7"/>
<circle cx="622.88" cy="579.71" r="1.35" fill="#fff" fill-opacity="0.5" stroke="#3d8fd8" stroke-width="0.7"/>
<circle cx="625.1" cy="579.89" r="1.35" fill="#fff" fill-opacity="0.5" stroke="#3d8fd8" stroke-width="0.7"/>
<circle cx="627.33" cy="580.07" r="1.35" fill="#fff" fill-opacity="0.5" stroke="#3d8fd8" stroke-width="0.7"/>
<circle cx="629.55" cy="580.25" r="1.35" fill="#fff" fill-opacity="0.5" stroke="#3d8fd8" stroke-width="0.7"/>
<circle cx="631.77" cy="580.43" r="1.35" fill="#fff" fill-opacity="0.5" stroke="#3d8fd8" stroke-width="0.7"/>
<circle cx="634" cy="580.61" r="1.35" fill="#fff" fill-opacity="0.5" stroke="#3d8fd8" stroke-width="0.7"/>
<circle cx="636.23" cy="580.79" r="1.35" fill="#fff" fill-opacity="0.5" stroke="#3d8fd8" stroke-width="0.7"/>
<circle cx="638.45" cy="580.97" r="1.35" fill="#fff" fill-opacity="0.5" stroke="#3d8fd8" stroke-width="0.7"/>
<circle cx="640.67" cy="581.14" r="1.35" fill="#fff" fill-opacity="0.5" stroke="#3d8fd8" stroke-width="0.7"/>
<circle cx="642.9" cy="581.29" r="1.35" fill="#fff" fill-opacity="0.5" stroke="#3d8fd8" stroke-width="0.7"/>
<circle cx="645.12" cy="581.43" r="1.35" fill="#fff" fill-opacity="0.5" stroke="#3d8fd8" stroke-width="0.7"/>
<circle cx="647.35" cy="581.58" r="1.35" fill="#fff" fill-opacity="0.5" stroke="#3d8fd8" stroke-width="0.7"/>
<circle cx="649.58" cy="581.72" r="1.35" fill="#fff" fill-opacity="0.5" stroke="#3d8fd8" stroke-width="0.7"/>
<circle cx="651.8" cy="581.87" r="1.35" fill="#fff" fill-opacity="0.5" stroke="#3d8fd8" stroke-width="0.7"/>
<circle cx="654.02" cy="582.01" r="1.35" fill="#fff" fill-opacity="0.5" stroke="#3d8fd8" stroke-width="0.7"/>
<circle cx="656.25" cy="582.16" r="1.35" fill="#fff" fill-opacity="0.5" stroke="#3d8fd8" stroke-width="0.7"/>
<circle cx="658.48" cy="582.3" r="1.35" fill="#fff" fill-opacity="0.5" stroke="#3d8fd8" stroke-width="0.7"/>
<circle cx="660.7" cy="582.44" r="1.35" fill="#fff" fill-opacity="0.5" stroke="#3d8fd8" stroke-width="0.7"/>
<circle cx="662.92" cy="582.59" r="1.35" fill="#fff" fill-opacity="0.5" stroke="#3d8fd8" stroke-width="0.7"/>
<circle cx="665.15" cy="582.73" r="1.35" fill="#fff" fill-opacity="0.5" stroke="#3d8fd8" stroke-width="0.7"/>
<circle cx="667.38" cy="582.88" r="1.35" fill="#fff" fill-opacity="0.5" stroke="#3d8fd8" stroke-width="0.7"/>
<circle cx="669.6" cy="583.02" r="1.35" fill="#fff" fill-opacity="0.5" stroke="#3d8fd8" stroke-width="0.7"/>
<circle cx="671.83" cy="583.17" r="1.35" fill="#fff" fill-opacity="0.5" stroke="#3d8fd8" stroke-width="0.7"/>
<circle cx="674.05" cy="583.31" r="1.35" fill="#fff" fill-opacity="0.5" stroke="#3d8fd8" stroke-width="0.7"/>
<circle cx="676.27" cy="583.46" r="1.35" fill="#fff" fill-opacity="0.5" stroke="#3d8fd8" stroke-width="0.7"/>
<circle cx="678.5" cy="583.59" r="1.35" fill="#fff" fill-opacity="0.5" stroke="#3d8fd8" stroke-width="0.7"/>
<line x1="511.1" y1="561.5" x2="532.8" y2="561.5" stroke="#f08a8a" stroke-width="1"/>
<circle cx="522.2" cy="561.5" r="1.35" fill="#fff" stroke="#f08a8a" stroke-width="0.7"/>
<text x="536.8" y="564.9" font-size="9.6" text-anchor="start" font-weight="normal" fill="#231f20" stroke="#231f20" stroke-width="0.22" textLength="29.3" lengthAdjust="spacingAndGlyphs">Heating</text>
<line x1="511.1" y1="573.5" x2="532.8" y2="573.5" stroke="#3d8fd8" stroke-width="1"/>
<circle cx="522.2" cy="573.5" r="1.35" fill="#fff" stroke="#3d8fd8" stroke-width="0.7"/>
<text x="536.8" y="576.9" font-size="9.6" text-anchor="start" font-weight="normal" fill="#231f20" stroke="#231f20" stroke-width="0.22" textLength="29.3" lengthAdjust="spacingAndGlyphs">Cooling</text>
<line x1="601.7" y1="452.6" x2="601.7" y2="514.4" stroke="#231f20" stroke-width="0.7"/>
<line x1="601.7" y1="514.4" x2="678.5" y2="514.4" stroke="#231f20" stroke-width="0.7"/>
<line x1="601.7" y1="514.4" x2="601.7" y2="515.9" stroke="#231f20" stroke-width="0.5"/>
<text x="601.7" y="524.1" font-size="5.6" text-anchor="middle" font-weight="normal" fill="#231f20" stroke="#231f20" stroke-width="0.03" >300</text>
<line x1="615.57" y1="514.4" x2="615.57" y2="515.9" stroke="#231f20" stroke-width="0.5"/>
<text x="615.57" y="524.1" font-size="5.6" text-anchor="middle" font-weight="normal" fill="#231f20" stroke="#231f20" stroke-width="0.03" >310</text>
<line x1="629.44" y1="514.4" x2="629.44" y2="515.9" stroke="#231f20" stroke-width="0.5"/>
<text x="629.44" y="524.1" font-size="5.6" text-anchor="middle" font-weight="normal" fill="#231f20" stroke="#231f20" stroke-width="0.03" >320</text>
<line x1="643.31" y1="514.4" x2="643.31" y2="515.9" stroke="#231f20" stroke-width="0.5"/>
<text x="643.31" y="524.1" font-size="5.6" text-anchor="middle" font-weight="normal" fill="#231f20" stroke="#231f20" stroke-width="0.03" >330</text>
<line x1="657.18" y1="514.4" x2="657.18" y2="515.9" stroke="#231f20" stroke-width="0.5"/>
<text x="657.18" y="524.1" font-size="5.6" text-anchor="middle" font-weight="normal" fill="#231f20" stroke="#231f20" stroke-width="0.03" >340</text>
<line x1="671.05" y1="514.4" x2="671.05" y2="515.9" stroke="#231f20" stroke-width="0.5"/>
<text x="671.05" y="524.1" font-size="5.6" text-anchor="middle" font-weight="normal" fill="#231f20" stroke="#231f20" stroke-width="0.03" >350</text>
<text x="639.6" y="532.6" font-size="5.8" text-anchor="middle" font-weight="normal" fill="#231f20" stroke="#231f20" stroke-width="0.05" >Temperature (K)</text>
<text x="0" y="0" font-size="5.8" text-anchor="middle" font-weight="normal" fill="#231f20" stroke="#231f20" stroke-width="0.05" transform="translate(598.6,483.2) rotate(-90)">First order differentiate</text>
<path d="M601.7,486.7 L603.6,479.1 L608.2,476.5 L620.3,473.5 L632.4,471.7 L640,471.5 L644.5,473 L649.1,479.1 L652.1,490.5 L654.4,502.6 L655.5,508.6 L656.7,501.1 L658.2,481.4 L660,467.7 L662.7,462.4 L668.8,461.7 L678.5,461.7" fill="none" stroke="#f29a9a" stroke-width="0.8"/>
<path d="M605.9,478.3 L612.7,476.8 L620.3,475.3 L626.4,477.6 L630.9,482.9 L634.7,493.5 L637,504.1 L638.5,509.4 L640,502.6 L642.3,479.8 L644.5,466.2 L647.6,462 L653.6,461.4 L678.5,461.4" fill="none" stroke="#4a9be0" stroke-width="0.8"/>
<text x="620.2" y="510" font-size="5.9" text-anchor="start" font-weight="normal" fill="#5aa5e6" stroke="#5aa5e6" stroke-width="0.05" >327 K</text>
<text x="658.2" y="510" font-size="5.9" text-anchor="start" font-weight="normal" fill="#f5a3a3" stroke="#f5a3a3" stroke-width="0.05" >339 K</text>
<path d="M638.5,506 L638.5,511.5 M637.3,508.5 L638.5,506 L639.7,508.5" stroke="#111" stroke-width="0.5" fill="none"/>
<path d="M655.5,506 L655.5,511.5 M654.3,508.5 L655.5,506 L656.7,508.5" stroke="#111" stroke-width="0.5" fill="none"/>
<text x="465.5" y="459.1" font-size="14.5" text-anchor="start" font-weight="bold" fill="#000" >h</text>
</svg></div></body></html>
